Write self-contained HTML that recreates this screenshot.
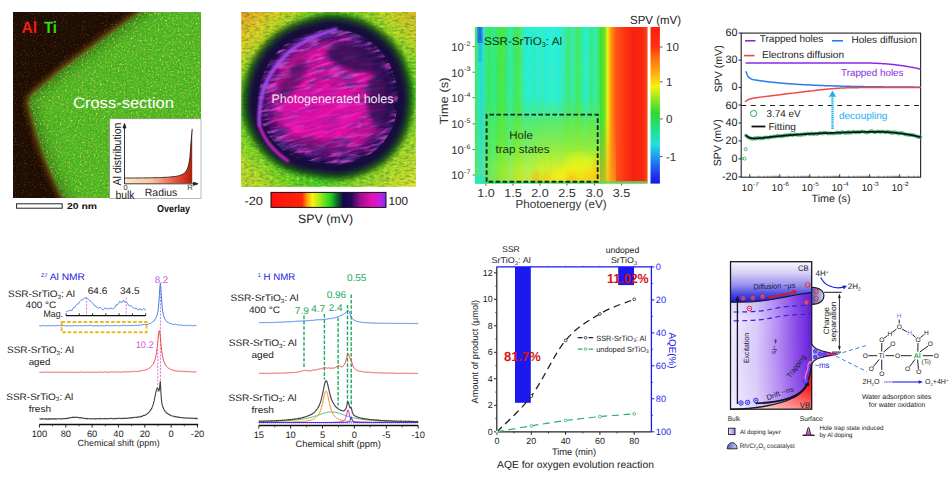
<!DOCTYPE html>
<html><head><meta charset="utf-8"><title>Figure</title>
<style>
html,body{margin:0;padding:0;background:#fff;}
body{width:952px;height:477px;overflow:hidden;font-family:"Liberation Sans",sans-serif;}
svg{display:block;}
text{font-family:"Liberation Sans",sans-serif;text-rendering:geometricPrecision;}
</style></head><body>
<svg width="952" height="477" viewBox="0 0 952 477">
<rect x="0" y="0" width="952" height="477" fill="#ffffff"/>
<defs>
<clipPath id="c1"><rect x="13" y="12" width="188" height="186"/></clipPath>
<filter id="n1" x="0" y="0" width="100%" height="100%">
  <feTurbulence type="fractalNoise" baseFrequency="0.55" numOctaves="2" seed="3" result="t"/>
  <feColorMatrix type="matrix" values="0 0 0 0 0.85  0 0 0 0 0.75  0 0 0 0 0.1  2.6 0 0 0 -1.35"/>
</filter>
<filter id="n1b" x="0" y="0" width="100%" height="100%">
  <feTurbulence type="fractalNoise" baseFrequency="0.5" numOctaves="2" seed="11" result="t"/>
  <feColorMatrix type="matrix" values="0 0 0 0 0.08  0 0 0 0 0.36  0 0 0 0 0.02  0 3.6 0 0 -1.55"/>
</filter>
<filter id="n1c" x="0" y="0" width="100%" height="100%">
  <feTurbulence type="fractalNoise" baseFrequency="0.9" numOctaves="1" seed="23" result="t"/>
  <feColorMatrix type="matrix" values="0 0 0 0 0.75  0 0 0 0 0.2  0 0 0 0 0.08  0 0 3.2 0 -1.85"/>
</filter>
<filter id="b1"><feGaussianBlur stdDeviation="2.6"/></filter>
<filter id="b1w" x="-20%" y="-20%" width="140%" height="140%"><feGaussianBlur stdDeviation="5"/></filter>
<filter id="b1e"><feGaussianBlur stdDeviation="3.2"/></filter>
<linearGradient id="g1in" x1="0" x2="1" y1="0" y2="0">
  <stop offset="0" stop-color="#fde9c6"/><stop offset="0.4" stop-color="#f9c4a0"/>
  <stop offset="0.68" stop-color="#f06a50"/><stop offset="0.88" stop-color="#d83420"/><stop offset="1" stop-color="#a82008"/>
</linearGradient>
</defs>
<g clip-path="url(#c1)">
<rect x="13" y="12" width="188" height="186" fill="#1d0d02"/>
<path d="M147.00,8.00 L205.00,8.00 L205.00,202.00 L66.00,202.00 L58.00,187.00 L50.00,169.00 L43.00,151.00 L37.00,133.00 L32.50,116.00 L30.00,106.00 L29.50,101.00 L31.00,97.00 L35.00,93.00 L60.00,72.00 L110.00,34.50 Z" fill="none" stroke="#7a4412" stroke-width="8" filter="url(#b1e)" opacity="0.85"/>
<path d="M147.00,8.00 L205.00,8.00 L205.00,202.00 L66.00,202.00 L58.00,187.00 L50.00,169.00 L43.00,151.00 L37.00,133.00 L32.50,116.00 L30.00,106.00 L29.50,101.00 L31.00,97.00 L35.00,93.00 L60.00,72.00 L110.00,34.50 Z" fill="#48c024" filter="url(#b1)"/>
<clipPath id="c1p"><path d="M147.00,8.00 L205.00,8.00 L205.00,202.00 L66.00,202.00 L58.00,187.00 L50.00,169.00 L43.00,151.00 L37.00,133.00 L32.50,116.00 L30.00,106.00 L29.50,101.00 L31.00,97.00 L35.00,93.00 L60.00,72.00 L110.00,34.50 Z"/></clipPath>
<g clip-path="url(#c1p)">
<path d="M152.00,4.00 L110.00,34.50 L60.00,72.00 L35.00,93.00 L31.00,97.00 L29.50,101.00 L30.00,106.00 L32.50,116.00 L37.00,133.00 L43.00,151.00 L50.00,169.00 L58.00,187.00 L66.00,202.00 L70.00,210.00" fill="none" stroke="#245c0c" stroke-width="16" filter="url(#b1w)" opacity="0.55"/>
<rect x="13" y="12" width="188" height="186" filter="url(#n1)"/>
<rect x="13" y="12" width="188" height="186" filter="url(#n1b)"/>
</g>
<rect x="13" y="12" width="188" height="186" filter="url(#n1c)" opacity="0.5"/>
</g>
<text x="21.5" y="32.5" font-size="16.5" fill="#f01e14" text-anchor="start" font-weight="bold" textLength="15.5" lengthAdjust="spacingAndGlyphs" >Al</text>
<text x="44.0" y="32.5" font-size="16.5" fill="#38d818" text-anchor="start" font-weight="bold" textLength="13.0" lengthAdjust="spacingAndGlyphs" >Ti</text>
<text x="73.0" y="108.0" font-size="15.2" fill="#ffffff" text-anchor="start" font-weight="normal" textLength="101.0" lengthAdjust="spacingAndGlyphs" >Cross-section</text>
<rect x="109.7" y="118.8" width="91.3" height="79.6" fill="#ffffff" stroke="#8a8a8a" stroke-width="0.6"/>
<path d="M124.50,183.30 L124.50,178.04 L125.63,178.04 L126.76,178.03 L127.89,178.02 L129.01,178.02 L130.14,178.01 L131.27,178.00 L132.40,177.99 L133.53,177.98 L134.66,177.98 L135.78,177.97 L136.91,177.96 L138.04,177.94 L139.17,177.93 L140.30,177.92 L141.43,177.91 L142.55,177.90 L143.68,177.88 L144.81,177.87 L145.94,177.85 L147.07,177.84 L148.19,177.82 L149.32,177.80 L150.45,177.78 L151.58,177.76 L152.71,177.74 L153.84,177.71 L154.97,177.69 L156.09,177.66 L157.22,177.63 L158.35,177.60 L159.48,177.56 L160.61,177.52 L161.74,177.48 L162.86,177.44 L163.99,177.39 L165.12,177.33 L166.25,177.27 L167.38,177.20 L168.50,177.13 L169.63,177.05 L170.76,176.95 L171.89,176.85 L173.02,176.73 L174.15,176.59 L175.27,176.43 L176.40,176.24 L177.53,176.02 L178.66,175.75 L179.79,175.44 L180.92,175.04 L182.04,174.56 L183.17,173.93 L184.30,173.11 L185.43,172.00 L186.56,170.43 L187.69,168.08 L188.81,164.26 L189.94,157.28 L191.07,141.75 L192.20,128.80 L192.20,183.30 Z" fill="url(#g1in)"/>
<path d="M124.50,178.04 L125.63,178.04 L126.76,178.03 L127.89,178.02 L129.01,178.02 L130.14,178.01 L131.27,178.00 L132.40,177.99 L133.53,177.98 L134.66,177.98 L135.78,177.97 L136.91,177.96 L138.04,177.94 L139.17,177.93 L140.30,177.92 L141.43,177.91 L142.55,177.90 L143.68,177.88 L144.81,177.87 L145.94,177.85 L147.07,177.84 L148.19,177.82 L149.32,177.80 L150.45,177.78 L151.58,177.76 L152.71,177.74 L153.84,177.71 L154.97,177.69 L156.09,177.66 L157.22,177.63 L158.35,177.60 L159.48,177.56 L160.61,177.52 L161.74,177.48 L162.86,177.44 L163.99,177.39 L165.12,177.33 L166.25,177.27 L167.38,177.20 L168.50,177.13 L169.63,177.05 L170.76,176.95 L171.89,176.85 L173.02,176.73 L174.15,176.59 L175.27,176.43 L176.40,176.24 L177.53,176.02 L178.66,175.75 L179.79,175.44 L180.92,175.04 L182.04,174.56 L183.17,173.93 L184.30,173.11 L185.43,172.00 L186.56,170.43 L187.69,168.08 L188.81,164.26 L189.94,157.28 L191.07,141.75 L192.20,128.80" fill="none" stroke="#222" stroke-width="0.9"/>
<path d="M124.5,184 L124.5,124.5 M123,128 L124.5,123.5 L126,128 Z" stroke="#222" stroke-width="0.9" fill="#222"/>
<path d="M124.5,183.8 L197,183.8 M193.5,182.3 L198,183.8 L193.5,185.3 Z" stroke="#222" stroke-width="0.9" fill="#222"/>
<text x="121.2" y="185.6" font-size="11.4" fill="#222" text-anchor="start" font-weight="normal" textLength="63.0" lengthAdjust="spacingAndGlyphs" transform="rotate(-90 121.2 185.6)" >Al distribution</text>
<text x="123.4" y="190.2" font-size="7.4" fill="#333" text-anchor="start" font-weight="normal" >0</text>
<text x="187.2" y="190.4" font-size="7.8" fill="#333" text-anchor="start" font-weight="normal" >R</text>
<text x="115.4" y="198.7" font-size="11.8" fill="#222" text-anchor="start" font-weight="normal" textLength="19.0" lengthAdjust="spacingAndGlyphs" >bulk</text>
<text x="144.8" y="196.3" font-size="10.5" fill="#222" text-anchor="start" font-weight="normal" textLength="32.5" lengthAdjust="spacingAndGlyphs" >Radius</text>
<rect x="16.6" y="203.8" width="45.6" height="4.4" fill="#fff" stroke="#222" stroke-width="1"/>
<text x="67.0" y="209.2" font-size="8.6" fill="#111" text-anchor="start" font-weight="bold" textLength="30.0" lengthAdjust="spacingAndGlyphs" >20 nm</text>
<text x="157.0" y="211.8" font-size="10" fill="#111" text-anchor="start" font-weight="bold" textLength="33.0" lengthAdjust="spacingAndGlyphs" >Overlay</text>
<defs>
<clipPath id="c2"><rect x="241.3" y="12" width="174.5" height="174.8"/></clipPath>
<linearGradient id="g2bg" x1="0" y1="0" x2="1" y2="1">
  <stop offset="0" stop-color="#f09418"/><stop offset="0.1" stop-color="#e0d020"/>
  <stop offset="0.24" stop-color="#58d418"/><stop offset="0.72" stop-color="#40d018"/>
  <stop offset="0.88" stop-color="#a8d824"/><stop offset="1" stop-color="#e4e428"/>
</linearGradient>
<linearGradient id="g2bg2" x1="1" y1="0" x2="0" y2="1">
  <stop offset="0" stop-color="#f0b020" stop-opacity="0.95"/><stop offset="0.1" stop-color="#d8d820" stop-opacity="0.8"/>
  <stop offset="0.25" stop-color="#80d020" stop-opacity="0"/><stop offset="0.78" stop-color="#80d020" stop-opacity="0"/>
  <stop offset="0.92" stop-color="#c8dc24" stop-opacity="0.8"/><stop offset="1" stop-color="#e0d828" stop-opacity="0.9"/>
</linearGradient>
<radialGradient id="g2e" cx="0.5" cy="0.5" r="0.5">
  <stop offset="0" stop-color="#e010a8"/><stop offset="0.45" stop-color="#c810a0"/>
  <stop offset="0.68" stop-color="#8a1088"/><stop offset="0.8" stop-color="#2a0c5c"/>
  <stop offset="0.88" stop-color="#160a44"/><stop offset="0.94" stop-color="#123c20"/>
  <stop offset="1" stop-color="#30a020" stop-opacity="0"/>
</radialGradient>
<filter id="n2" x="0" y="0" width="100%" height="100%">
  <feTurbulence type="fractalNoise" baseFrequency="0.05 0.3" numOctaves="3" seed="5"/>
  <feColorMatrix type="matrix" values="0 0 0 0 0.09  0 0 0 0 0.03  0 0 0 0 0.27  3.4 0 0 0 -1.5"/>
</filter>
<filter id="n2b" x="0" y="0" width="100%" height="100%">
  <feTurbulence type="fractalNoise" baseFrequency="0.06 0.32" numOctaves="3" seed="17"/>
  <feColorMatrix type="matrix" values="0 0 0 0 0.94  0 0 0 0 0.08  0 0 0 0 0.72  0 3.2 0 0 -1.5"/>
</filter>
<filter id="n2c" x="0" y="0" width="100%" height="100%">
  <feTurbulence type="fractalNoise" baseFrequency="0.2 0.5" numOctaves="2" seed="29"/>
  <feColorMatrix type="matrix" values="0 0 0 0 0.06  0 0 0 0 0.25  0 0 0 0 0.05  0 0 3.6 0 -1.6"/>
</filter>
<filter id="n2d" x="0" y="0" width="100%" height="100%">
  <feTurbulence type="fractalNoise" baseFrequency="0.3 0.5" numOctaves="2" seed="41"/>
  <feColorMatrix type="matrix" values="0 0 0 0 0.95  0 0 0 0 0.85  0 0 0 0 0.1  0 3 0 0 -1.5"/>
</filter>
<filter id="b2"><feGaussianBlur stdDeviation="2.2"/></filter>
<filter id="b2s"><feGaussianBlur stdDeviation="0.9"/></filter>
<filter id="b2w"><feGaussianBlur stdDeviation="4"/></filter>
<linearGradient id="g2cb" x1="0" x2="1" y1="0" y2="0">
  <stop offset="0" stop-color="#ff1010"/><stop offset="0.27" stop-color="#ff2408"/>
  <stop offset="0.31" stop-color="#ff9808"/><stop offset="0.36" stop-color="#fff010"/>
  <stop offset="0.44" stop-color="#90e818"/><stop offset="0.52" stop-color="#20d020"/>
  <stop offset="0.58" stop-color="#106028"/><stop offset="0.63" stop-color="#100848"/>
  <stop offset="0.70" stop-color="#28085c"/><stop offset="0.78" stop-color="#a01090"/>
  <stop offset="0.88" stop-color="#e810b8"/><stop offset="0.95" stop-color="#c020e0"/>
  <stop offset="1" stop-color="#8828f0"/>
</linearGradient>
</defs>
<g clip-path="url(#c2)">
<rect x="241" y="12" width="175" height="175" fill="url(#g2bg)"/>
<rect x="241" y="12" width="175" height="175" fill="url(#g2bg2)"/>
<rect x="241" y="12" width="175" height="175" filter="url(#n2d)" opacity="0.6"/>
<rect x="241" y="12" width="175" height="175" filter="url(#n2c)" opacity="0.5"/>
<path d="M336.5,13.8 C346.9,14.6 358.8,17.1 368.9,22.5 C379.0,27.9 389.9,36.9 397.0,46.2 C404.0,55.6 408.5,67.5 411.0,78.6 C413.5,89.8 413.5,102.6 412.1,113.2 C410.6,123.8 407.6,133.5 402.4,142.4 C397.1,151.2 389.9,160.0 380.8,166.1 C371.6,172.2 358.6,177.3 347.3,179.1 C335.9,180.9 323.7,178.7 312.7,176.9 C301.7,175.1 290.6,173.1 281.4,168.3 C272.2,163.4 263.9,155.9 257.6,147.8 C251.3,139.7 246.1,129.0 243.6,119.7 C241.1,110.3 241.1,101.5 242.5,91.6 C244.0,81.7 246.8,70.0 252.2,60.3 C257.6,50.6 265.9,40.3 274.9,33.3 C283.9,26.3 296.0,21.4 306.2,18.2 C316.5,14.9 326.0,13.1 336.5,13.8 Z" fill="#103c14" opacity="0.8" filter="url(#b2)"/>
<path d="M336.0,20.0 C345.7,20.7 356.7,23.0 366.0,28.0 C375.3,33.0 385.5,41.3 392.0,50.0 C398.5,58.7 402.7,69.7 405.0,80.0 C407.3,90.3 407.3,102.2 406.0,112.0 C404.7,121.8 401.8,130.8 397.0,139.0 C392.2,147.2 385.5,155.3 377.0,161.0 C368.5,166.7 356.5,171.3 346.0,173.0 C335.5,174.7 324.2,172.7 314.0,171.0 C303.8,169.3 293.5,167.5 285.0,163.0 C276.5,158.5 268.8,151.5 263.0,144.0 C257.2,136.5 252.3,126.7 250.0,118.0 C247.7,109.3 247.7,101.2 249.0,92.0 C250.3,82.8 253.0,72.0 258.0,63.0 C263.0,54.0 270.7,44.5 279.0,38.0 C287.3,31.5 298.5,27.0 308.0,24.0 C317.5,21.0 326.3,19.3 336.0,20.0 Z" fill="#15083e" filter="url(#b2)"/>
<path d="M335.0,32.3 C343.2,32.9 352.4,34.8 360.2,39.0 C368.1,43.2 376.6,50.2 382.1,57.5 C387.5,64.8 391.0,74.0 393.0,82.7 C395.0,91.4 395.0,101.3 393.8,109.6 C392.7,117.9 390.3,125.4 386.3,132.3 C382.2,139.1 376.6,146.0 369.5,150.8 C362.3,155.5 352.3,159.4 343.4,160.8 C334.6,162.2 325.1,160.6 316.6,159.2 C308.0,157.8 299.3,156.2 292.2,152.4 C285.1,148.7 278.6,142.8 273.7,136.5 C268.8,130.2 264.8,121.9 262.8,114.6 C260.8,107.4 260.8,100.5 262.0,92.8 C263.1,85.1 265.3,76.0 269.5,68.4 C273.7,60.9 280.2,52.9 287.2,47.4 C294.2,42.0 303.5,38.2 311.5,35.7 C319.5,33.2 326.9,31.8 335.0,32.3 Z" fill="#3c0c64" filter="url(#b2)"/>
<path d="M334.3,41.6 C341.3,42.0 349.2,43.7 355.9,47.3 C362.6,50.9 370.0,56.9 374.6,63.2 C379.3,69.4 382.3,77.3 384.0,84.8 C385.7,92.2 385.7,100.7 384.7,107.8 C383.8,114.9 381.7,121.4 378.2,127.2 C374.8,133.1 370.0,139.0 363.8,143.1 C357.7,147.2 349.1,150.5 341.5,151.7 C334.0,152.9 325.8,151.5 318.5,150.3 C311.2,149.1 303.7,147.8 297.6,144.5 C291.5,141.3 286.0,136.2 281.8,130.8 C277.6,125.4 274.1,118.4 272.4,112.1 C270.7,105.9 270.7,100.0 271.7,93.4 C272.6,86.8 274.6,79.0 278.2,72.5 C281.8,66.0 287.3,59.2 293.3,54.5 C299.3,49.8 307.3,46.6 314.2,44.4 C321.0,42.3 327.4,41.1 334.3,41.6 Z" fill="#d01098" filter="url(#b2w)"/>
<clipPath id="c2e"><path d="M335.3,29.2 C343.8,29.8 353.5,31.9 361.7,36.3 C369.9,40.7 378.8,48.0 384.6,55.6 C390.3,63.3 393.9,72.9 396.0,82.0 C398.1,91.1 398.1,101.5 396.9,110.2 C395.7,118.9 393.2,126.8 389.0,134.0 C384.7,141.1 378.8,148.3 371.4,153.3 C363.9,158.3 353.3,162.4 344.1,163.9 C334.8,165.3 324.9,163.6 315.9,162.1 C307.0,160.7 297.9,159.0 290.4,155.1 C282.9,151.1 276.2,145.0 271.0,138.4 C265.9,131.8 261.7,123.1 259.6,115.5 C257.5,107.9 257.5,100.7 258.7,92.6 C259.9,84.5 262.2,75.0 266.6,67.1 C271.0,59.2 277.8,50.8 285.1,45.1 C292.5,39.4 302.3,35.4 310.6,32.8 C319.0,30.1 326.8,28.7 335.3,29.2 Z"/></clipPath>
<g clip-path="url(#c2e)">
<g transform="rotate(-14 330 97)">
<rect x="221" y="-10" width="215" height="215" filter="url(#n2)" opacity="0.95"/>
<rect x="221" y="-10" width="215" height="215" filter="url(#n2b)" opacity="0.75"/>
</g>
</g>
<ellipse cx="356" cy="58" rx="30" ry="13" fill="#1c0848" opacity="0.75" filter="url(#b2)" transform="rotate(14 356 58)"/>
<ellipse cx="381" cy="98" rx="14" ry="30" fill="#1c0848" opacity="0.7" filter="url(#b2)"/>
<ellipse cx="292" cy="80" rx="9" ry="24" fill="#1c0848" opacity="0.45" filter="url(#b2)" transform="rotate(32 292 80)"/>
<ellipse cx="322" cy="146" rx="30" ry="7" fill="#1c0848" opacity="0.35" filter="url(#b2)" transform="rotate(10 322 146)"/>
<ellipse cx="322" cy="112" rx="40" ry="26" fill="#f010b0" opacity="0.5" filter="url(#b2)"/>
<path d="M336,29.5 C312,36 294,46 283,58 C272,70 264,84 261.5,97 C259.5,108 258.5,117 259.5,125" fill="none" stroke="#a848f0" stroke-width="3.4" stroke-linecap="round" filter="url(#b2s)"/>
<path d="M259.5,125 C263,138 272,150 288,161" fill="none" stroke="#d428c8" stroke-width="3.0" stroke-linecap="round" filter="url(#b2s)" opacity="0.95"/>
</g>
<text x="271.5" y="103.0" font-size="12.4" fill="#f4e8f4" text-anchor="start" font-weight="normal" textLength="122.0" lengthAdjust="spacingAndGlyphs" >Photogenerated holes</text>
<rect x="271" y="192.4" width="115" height="15" fill="url(#g2cb)" stroke="#111" stroke-width="1"/>
<text x="244.5" y="204.5" font-size="11.8" fill="#222" text-anchor="start" font-weight="normal" textLength="18.5" lengthAdjust="spacingAndGlyphs" >-20</text>
<text x="388.5" y="204.5" font-size="11.8" fill="#222" text-anchor="start" font-weight="normal" textLength="19.5" lengthAdjust="spacingAndGlyphs" >100</text>
<text x="298.0" y="223.3" font-size="12.2" fill="#222" text-anchor="start" font-weight="normal" textLength="55.0" lengthAdjust="spacingAndGlyphs" >SPV (mV)</text>
<defs>
<clipPath id="c3"><rect x="474.8" y="27.0" width="172.7" height="156.6"/></clipPath>
<linearGradient id="g3v" x1="0" x2="0" y1="0" y2="1">
  <stop offset="0" stop-color="#40e860" stop-opacity="0"/>
  <stop offset="0.45" stop-color="#50e850" stop-opacity="0.1"/>
  <stop offset="0.6" stop-color="#70e838" stop-opacity="0.7"/>
  <stop offset="0.78" stop-color="#a8ec28" stop-opacity="0.88"/>
  <stop offset="0.9" stop-color="#e4f018" stop-opacity="0.95"/>
  <stop offset="1" stop-color="#fce010" stop-opacity="1"/>
</linearGradient>
<linearGradient id="g3h" x1="0" x2="1" y1="0" y2="0">
  <stop offset="0" stop-color="#fff" stop-opacity="0.1"/>
  <stop offset="0.1" stop-color="#fff" stop-opacity="0.3"/>
  <stop offset="0.3" stop-color="#fff" stop-opacity="0.7"/>
  <stop offset="0.5" stop-color="#fff" stop-opacity="0.95"/>
  <stop offset="1" stop-color="#fff" stop-opacity="1"/>
</linearGradient>
<mask id="m3"><rect x="474.8" y="27.0" width="140" height="156.6" fill="url(#g3h)"/></mask>
<linearGradient id="g3r" x1="0" x2="1" y1="0" y2="0">
  <stop offset="0" stop-color="#38e040"/><stop offset="0.09" stop-color="#60e428"/>
  <stop offset="0.16" stop-color="#f0f010"/><stop offset="0.23" stop-color="#ff9810"/>
  <stop offset="0.34" stop-color="#ff5018"/><stop offset="0.55" stop-color="#fc3010"/>
  <stop offset="0.7" stop-color="#f82010"/><stop offset="0.9" stop-color="#fa2810"/>
  <stop offset="1" stop-color="#ff5018"/>
</linearGradient>
<linearGradient id="g3rv" x1="0" x2="0" y1="0" y2="1">
  <stop offset="0" stop-color="#ff8020" stop-opacity="0"/>
  <stop offset="0.6" stop-color="#ff8020" stop-opacity="0"/>
  <stop offset="1" stop-color="#ffa020" stop-opacity="0.55"/>
</linearGradient>
<linearGradient id="g3cb" x1="0" x2="0" y1="0" y2="1">
  <stop offset="0" stop-color="#ff1c10"/><stop offset="0.12" stop-color="#ff3010"/>
  <stop offset="0.2" stop-color="#ff7010"/><stop offset="0.3" stop-color="#ffb010"/>
  <stop offset="0.38" stop-color="#f8f010"/><stop offset="0.46" stop-color="#90e820"/>
  <stop offset="0.55" stop-color="#30d830"/><stop offset="0.66" stop-color="#20e090"/>
  <stop offset="0.75" stop-color="#20e0e0"/><stop offset="0.84" stop-color="#2090f0"/>
  <stop offset="0.93" stop-color="#2040f0"/><stop offset="1" stop-color="#1818e0"/>
</linearGradient>
<filter id="b3"><feGaussianBlur stdDeviation="1.4 0.4"/></filter>
<filter id="b3b"><feGaussianBlur stdDeviation="2.5 4"/></filter>
<filter id="n3" x="0" y="0" width="100%" height="100%">
  <feTurbulence type="fractalNoise" baseFrequency="0.5 0.08" numOctaves="2" seed="9"/>
  <feColorMatrix type="matrix" values="0 0 0 0 0.1  0 0 0 0 0.95  0 0 0 0 0.2  2.4 0 0 0 -1.15"/>
</filter>
</defs>
<g clip-path="url(#c3)">
<rect x="474.8" y="27.0" width="172.7" height="156.6" fill="#30e078"/>
<g filter="url(#b3)">
<rect x="474.8" y="20" width="3.1" height="170" fill="#48e850"/>
<rect x="477.3" y="20" width="2.8000000000000003" height="170" fill="#28ecb0"/>
<rect x="479.5" y="20" width="4.2" height="170" fill="#28d8e8"/>
<rect x="483.1" y="20" width="4.0" height="170" fill="#30e8a0"/>
<rect x="486.5" y="20" width="5.6" height="170" fill="#38e860"/>
<rect x="491.5" y="20" width="4.6" height="170" fill="#30ec90"/>
<rect x="495.5" y="20" width="4.6" height="170" fill="#38e858"/>
<rect x="499.5" y="20" width="5.1" height="170" fill="#50e840"/>
<rect x="504" y="20" width="4.6" height="170" fill="#38e868"/>
<rect x="508" y="20" width="4.6" height="170" fill="#30ecb0"/>
<rect x="512" y="20" width="5.6" height="170" fill="#38e870"/>
<rect x="517" y="20" width="4.6" height="170" fill="#50e840"/>
<rect x="521" y="20" width="4.6" height="170" fill="#30ecb0"/>
<rect x="525" y="20" width="7.6" height="170" fill="#28f0e0"/>
<rect x="532" y="20" width="4.6" height="170" fill="#30ecc0"/>
<rect x="536" y="20" width="4.6" height="170" fill="#28f0e0"/>
<rect x="540" y="20" width="5.6" height="170" fill="#30ecc8"/>
<rect x="545" y="20" width="5.6" height="170" fill="#28f0e8"/>
<rect x="550" y="20" width="5.6" height="170" fill="#30f0d0"/>
<rect x="555" y="20" width="5.6" height="170" fill="#28f0e8"/>
<rect x="560" y="20" width="6.6" height="170" fill="#30ecc0"/>
<rect x="566" y="20" width="4.6" height="170" fill="#40e868"/>
<rect x="570" y="20" width="5.6" height="170" fill="#30ecb0"/>
<rect x="575" y="20" width="4.6" height="170" fill="#48e850"/>
<rect x="579" y="20" width="5.6" height="170" fill="#30ec98"/>
<rect x="584" y="20" width="5.6" height="170" fill="#28f0d8"/>
<rect x="589" y="20" width="4.6" height="170" fill="#38e878"/>
<rect x="593" y="20" width="4.6" height="170" fill="#30ecb8"/>
<rect x="597" y="20" width="4.6" height="170" fill="#40e858"/>
<rect x="601" y="20" width="5.6" height="170" fill="#38e040"/>
</g>
<rect x="477.6" y="27" width="4.6" height="16" fill="#2050f0" filter="url(#b3)"/>
<rect x="478.4" y="40" width="3" height="22" fill="#2890f0" opacity="0.6" filter="url(#b3)"/>
<rect x="474.8" y="27.0" width="140" height="156.6" fill="url(#g3v)" mask="url(#m3)"/>
<rect x="474.8" y="27.0" width="135" height="156.6" filter="url(#n3)" opacity="0.18"/>
<ellipse cx="536" cy="179" rx="3" ry="7" fill="#ffa010" opacity="0.7" filter="url(#b3b)"/>
<ellipse cx="546" cy="180" rx="3" ry="6" fill="#ffb010" opacity="0.6" filter="url(#b3b)"/>
<ellipse cx="572" cy="178" rx="6" ry="7" fill="#ffa810" opacity="0.65" filter="url(#b3b)"/>
<ellipse cx="588" cy="176" rx="8" ry="10" fill="#ffb818" opacity="0.6" filter="url(#b3b)"/>
<ellipse cx="560" cy="176" rx="8" ry="8" fill="#fff018" opacity="0.6" filter="url(#b3b)"/>
<ellipse cx="580" cy="166" rx="16" ry="12" fill="#f8f818" opacity="0.5" filter="url(#b3b)"/>
<ellipse cx="598" cy="170" rx="5" ry="14" fill="#ffc010" opacity="0.55" filter="url(#b3b)"/>
<rect x="600" y="27.0" width="48" height="156.6" fill="url(#g3r)"/>
<rect x="600" y="27.0" width="16" height="156.6" fill="url(#g3rv)"/>
<rect x="474.8" y="181.2" width="125" height="2.6" fill="#48e058" opacity="0.9"/>
<rect x="600" y="181.2" width="48" height="2.6" fill="#50e060" opacity="0.9"/>
<rect x="474.8" y="176" width="10" height="8" fill="#28e8c0" opacity="0.8"/>
</g>
<path d="M472.6,46.6 L474.8,46.6" stroke="#333" stroke-width="0.8"/>
<path d="M472.6,72.2 L474.8,72.2" stroke="#333" stroke-width="0.8"/>
<path d="M472.6,97.7 L474.8,97.7" stroke="#333" stroke-width="0.8"/>
<path d="M472.6,123.9 L474.8,123.9" stroke="#333" stroke-width="0.8"/>
<path d="M472.6,149.6 L474.8,149.6" stroke="#333" stroke-width="0.8"/>
<path d="M472.6,175.0 L474.8,175.0" stroke="#333" stroke-width="0.8"/>
<text x="451.2" y="50.9" font-size="11.2" fill="#333" text-anchor="start" font-weight="normal" textLength="12.6" lengthAdjust="spacingAndGlyphs" >10</text>
<text x="464.0" y="45.6" font-size="6.4" fill="#333" text-anchor="start" font-weight="normal" textLength="6.4" lengthAdjust="spacingAndGlyphs" >-2</text>
<text x="451.2" y="76.5" font-size="11.2" fill="#333" text-anchor="start" font-weight="normal" textLength="12.6" lengthAdjust="spacingAndGlyphs" >10</text>
<text x="464.0" y="71.2" font-size="6.4" fill="#333" text-anchor="start" font-weight="normal" textLength="6.4" lengthAdjust="spacingAndGlyphs" >-3</text>
<text x="451.2" y="102.0" font-size="11.2" fill="#333" text-anchor="start" font-weight="normal" textLength="12.6" lengthAdjust="spacingAndGlyphs" >10</text>
<text x="464.0" y="96.7" font-size="6.4" fill="#333" text-anchor="start" font-weight="normal" textLength="6.4" lengthAdjust="spacingAndGlyphs" >-4</text>
<text x="451.2" y="128.2" font-size="11.2" fill="#333" text-anchor="start" font-weight="normal" textLength="12.6" lengthAdjust="spacingAndGlyphs" >10</text>
<text x="464.0" y="122.9" font-size="6.4" fill="#333" text-anchor="start" font-weight="normal" textLength="6.4" lengthAdjust="spacingAndGlyphs" >-5</text>
<text x="451.2" y="153.9" font-size="11.2" fill="#333" text-anchor="start" font-weight="normal" textLength="12.6" lengthAdjust="spacingAndGlyphs" >10</text>
<text x="464.0" y="148.6" font-size="6.4" fill="#333" text-anchor="start" font-weight="normal" textLength="6.4" lengthAdjust="spacingAndGlyphs" >-6</text>
<text x="451.2" y="179.3" font-size="11.2" fill="#333" text-anchor="start" font-weight="normal" textLength="12.6" lengthAdjust="spacingAndGlyphs" >10</text>
<text x="464.0" y="174.0" font-size="6.4" fill="#333" text-anchor="start" font-weight="normal" textLength="6.4" lengthAdjust="spacingAndGlyphs" >-7</text>
<text x="447.5" y="124.5" font-size="11.8" fill="#333" text-anchor="start" font-weight="normal" textLength="47.0" lengthAdjust="spacingAndGlyphs" transform="rotate(-90 447.5 124.5)" >Time (s)</text>
<text x="485.9" y="197.2" font-size="11.6" fill="#333" text-anchor="middle" font-weight="normal" textLength="17.5" lengthAdjust="spacingAndGlyphs" >1.0</text>
<path d="M485.9,183.6 L485.9,185.6" stroke="#333" stroke-width="0.8"/>
<text x="513.0" y="197.2" font-size="11.6" fill="#333" text-anchor="middle" font-weight="normal" textLength="17.5" lengthAdjust="spacingAndGlyphs" >1.5</text>
<path d="M513,183.6 L513,185.6" stroke="#333" stroke-width="0.8"/>
<text x="540.0" y="197.2" font-size="11.6" fill="#333" text-anchor="middle" font-weight="normal" textLength="17.5" lengthAdjust="spacingAndGlyphs" >2.0</text>
<path d="M540,183.6 L540,185.6" stroke="#333" stroke-width="0.8"/>
<text x="567.0" y="197.2" font-size="11.6" fill="#333" text-anchor="middle" font-weight="normal" textLength="17.5" lengthAdjust="spacingAndGlyphs" >2.5</text>
<path d="M567,183.6 L567,185.6" stroke="#333" stroke-width="0.8"/>
<text x="594.4" y="197.2" font-size="11.6" fill="#333" text-anchor="middle" font-weight="normal" textLength="17.5" lengthAdjust="spacingAndGlyphs" >3.0</text>
<path d="M594.4,183.6 L594.4,185.6" stroke="#333" stroke-width="0.8"/>
<text x="621.6" y="197.2" font-size="11.6" fill="#333" text-anchor="middle" font-weight="normal" textLength="17.5" lengthAdjust="spacingAndGlyphs" >3.5</text>
<path d="M621.6,183.6 L621.6,185.6" stroke="#333" stroke-width="0.8"/>
<text x="515.5" y="208.3" font-size="11.8" fill="#333" text-anchor="start" font-weight="normal" textLength="91.0" lengthAdjust="spacingAndGlyphs" >Photoenergy (eV)</text>
<text x="484.0" y="45.2" font-size="11.2" fill="#143018" text-anchor="start" font-weight="normal" textLength="78.0" lengthAdjust="spacingAndGlyphs" >SSR-SrTiO<tspan font-size="7" dy="2.2">3</tspan><tspan dy="-2.2">: Al</tspan></text>
<path d="M486.6,181.8 L486.6,114.6 L597.7,114.6 L597.7,181.8 Z" fill="none" stroke="#0c2440" stroke-width="1.9" stroke-dasharray="4.6,2.4"/>
<text x="509.3" y="139.2" font-size="11.4" fill="#1c3010" text-anchor="start" font-weight="normal" textLength="23.5" lengthAdjust="spacingAndGlyphs" >Hole</text>
<text x="495.5" y="153.4" font-size="11.4" fill="#1c3010" text-anchor="start" font-weight="normal" textLength="54.0" lengthAdjust="spacingAndGlyphs" >trap states</text>
<rect x="650.5" y="27" width="9.4" height="156.6" fill="url(#g3cb)"/>
<path d="M659.9,47 L662.6,47" stroke="#333" stroke-width="0.8"/>
<text x="666.0" y="51.2" font-size="11.6" fill="#333" text-anchor="start" font-weight="normal" >10</text>
<path d="M659.9,81.8 L662.6,81.8" stroke="#333" stroke-width="0.8"/>
<text x="666.0" y="86.0" font-size="11.6" fill="#333" text-anchor="start" font-weight="normal" >1</text>
<path d="M659.9,118.9 L662.6,118.9" stroke="#333" stroke-width="0.8"/>
<text x="666.0" y="123.1" font-size="11.6" fill="#333" text-anchor="start" font-weight="normal" >0</text>
<path d="M659.9,156.6 L662.6,156.6" stroke="#333" stroke-width="0.8"/>
<text x="666.0" y="160.8" font-size="11.6" fill="#333" text-anchor="start" font-weight="normal" >-1</text>
<text x="630.0" y="23.8" font-size="11.8" fill="#222" text-anchor="start" font-weight="normal" textLength="51.0" lengthAdjust="spacingAndGlyphs" >SPV (mV)</text>
<rect x="741.2" y="33.1" width="179.39999999999998" height="144.1" fill="none" stroke="#2a2a2a" stroke-width="1.15"/>
<path d="M741.2,105.5 L920.6,105.5" stroke="#222" stroke-width="1.1" stroke-dasharray="5,4.6" fill="none"/>
<path d="M738.6,33.1 L741.2,33.1" stroke="#222" stroke-width="1"/>
<text x="737.6" y="36.0" font-size="10.8" fill="#222" text-anchor="end" font-weight="normal" >60</text>
<path d="M738.6,60.2 L741.2,60.2" stroke="#222" stroke-width="1"/>
<text x="737.6" y="63.1" font-size="10.8" fill="#222" text-anchor="end" font-weight="normal" >30</text>
<path d="M738.6,87.4 L741.2,87.4" stroke="#222" stroke-width="1"/>
<text x="737.6" y="90.3" font-size="10.8" fill="#222" text-anchor="end" font-weight="normal" >0</text>
<path d="M738.6,105.0 L741.2,105.0" stroke="#222" stroke-width="1"/>
<text x="737.6" y="108.6" font-size="10.8" fill="#222" text-anchor="end" font-weight="normal" >60</text>
<path d="M738.6,123.0 L741.2,123.0" stroke="#222" stroke-width="1"/>
<text x="737.6" y="125.9" font-size="10.8" fill="#222" text-anchor="end" font-weight="normal" >40</text>
<path d="M738.6,140.9 L741.2,140.9" stroke="#222" stroke-width="1"/>
<text x="737.6" y="143.8" font-size="10.8" fill="#222" text-anchor="end" font-weight="normal" >20</text>
<path d="M738.6,158.9 L741.2,158.9" stroke="#222" stroke-width="1"/>
<text x="737.6" y="161.8" font-size="10.8" fill="#222" text-anchor="end" font-weight="normal" >0</text>
<path d="M738.6,176.9 L741.2,176.9" stroke="#222" stroke-width="1"/>
<text x="737.6" y="179.8" font-size="10.8" fill="#222" text-anchor="end" font-weight="normal" >-20</text>
<text x="721.6" y="92.3" font-size="10.5" fill="#222" text-anchor="start" font-weight="normal" textLength="47.0" lengthAdjust="spacingAndGlyphs" transform="rotate(-90 721.6 92.3)" >SPV (mV)</text>
<text x="720.8" y="166.3" font-size="10.5" fill="#222" text-anchor="start" font-weight="normal" textLength="47.0" lengthAdjust="spacingAndGlyphs" transform="rotate(-90 720.8 166.3)" >SPV (mV)</text>
<path d="M749.8,177.2 L749.8,174.2" stroke="#222" stroke-width="0.9"/>
<text x="741.6" y="191.4" font-size="10" fill="#222" text-anchor="start" font-weight="normal" textLength="11.2" lengthAdjust="spacingAndGlyphs" >10</text>
<text x="753.0" y="186.4" font-size="6.0" fill="#222" text-anchor="start" font-weight="normal" textLength="5.8" lengthAdjust="spacingAndGlyphs" >-7</text>
<path d="M758.8,177.2 L758.8,175.6" stroke="#222" stroke-width="0.5"/>
<path d="M764.1,177.2 L764.1,175.6" stroke="#222" stroke-width="0.5"/>
<path d="M767.8,177.2 L767.8,175.6" stroke="#222" stroke-width="0.5"/>
<path d="M770.8,177.2 L770.8,175.6" stroke="#222" stroke-width="0.5"/>
<path d="M773.1,177.2 L773.1,175.6" stroke="#222" stroke-width="0.5"/>
<path d="M775.1,177.2 L775.1,175.6" stroke="#222" stroke-width="0.5"/>
<path d="M776.9,177.2 L776.9,175.6" stroke="#222" stroke-width="0.5"/>
<path d="M778.4,177.2 L778.4,175.6" stroke="#222" stroke-width="0.5"/>
<path d="M779.8,177.2 L779.8,174.2" stroke="#222" stroke-width="0.9"/>
<text x="771.6" y="191.4" font-size="10" fill="#222" text-anchor="start" font-weight="normal" textLength="11.2" lengthAdjust="spacingAndGlyphs" >10</text>
<text x="783.0" y="186.4" font-size="6.0" fill="#222" text-anchor="start" font-weight="normal" textLength="5.8" lengthAdjust="spacingAndGlyphs" >-6</text>
<path d="M788.8,177.2 L788.8,175.6" stroke="#222" stroke-width="0.5"/>
<path d="M794.1,177.2 L794.1,175.6" stroke="#222" stroke-width="0.5"/>
<path d="M797.8,177.2 L797.8,175.6" stroke="#222" stroke-width="0.5"/>
<path d="M800.7,177.2 L800.7,175.6" stroke="#222" stroke-width="0.5"/>
<path d="M803.1,177.2 L803.1,175.6" stroke="#222" stroke-width="0.5"/>
<path d="M805.1,177.2 L805.1,175.6" stroke="#222" stroke-width="0.5"/>
<path d="M806.9,177.2 L806.9,175.6" stroke="#222" stroke-width="0.5"/>
<path d="M808.4,177.2 L808.4,175.6" stroke="#222" stroke-width="0.5"/>
<path d="M809.8,177.2 L809.8,174.2" stroke="#222" stroke-width="0.9"/>
<text x="801.6" y="191.4" font-size="10" fill="#222" text-anchor="start" font-weight="normal" textLength="11.2" lengthAdjust="spacingAndGlyphs" >10</text>
<text x="813.0" y="186.4" font-size="6.0" fill="#222" text-anchor="start" font-weight="normal" textLength="5.8" lengthAdjust="spacingAndGlyphs" >-5</text>
<path d="M818.8,177.2 L818.8,175.6" stroke="#222" stroke-width="0.5"/>
<path d="M824.1,177.2 L824.1,175.6" stroke="#222" stroke-width="0.5"/>
<path d="M827.8,177.2 L827.8,175.6" stroke="#222" stroke-width="0.5"/>
<path d="M830.7,177.2 L830.7,175.6" stroke="#222" stroke-width="0.5"/>
<path d="M833.1,177.2 L833.1,175.6" stroke="#222" stroke-width="0.5"/>
<path d="M835.1,177.2 L835.1,175.6" stroke="#222" stroke-width="0.5"/>
<path d="M836.8,177.2 L836.8,175.6" stroke="#222" stroke-width="0.5"/>
<path d="M838.4,177.2 L838.4,175.6" stroke="#222" stroke-width="0.5"/>
<path d="M839.7,177.2 L839.7,174.2" stroke="#222" stroke-width="0.9"/>
<text x="831.5" y="191.4" font-size="10" fill="#222" text-anchor="start" font-weight="normal" textLength="11.2" lengthAdjust="spacingAndGlyphs" >10</text>
<text x="842.9" y="186.4" font-size="6.0" fill="#222" text-anchor="start" font-weight="normal" textLength="5.8" lengthAdjust="spacingAndGlyphs" >-4</text>
<path d="M848.8,177.2 L848.8,175.6" stroke="#222" stroke-width="0.5"/>
<path d="M854.0,177.2 L854.0,175.6" stroke="#222" stroke-width="0.5"/>
<path d="M857.8,177.2 L857.8,175.6" stroke="#222" stroke-width="0.5"/>
<path d="M860.7,177.2 L860.7,175.6" stroke="#222" stroke-width="0.5"/>
<path d="M863.1,177.2 L863.1,175.6" stroke="#222" stroke-width="0.5"/>
<path d="M865.1,177.2 L865.1,175.6" stroke="#222" stroke-width="0.5"/>
<path d="M866.8,177.2 L866.8,175.6" stroke="#222" stroke-width="0.5"/>
<path d="M868.3,177.2 L868.3,175.6" stroke="#222" stroke-width="0.5"/>
<path d="M869.7,177.2 L869.7,174.2" stroke="#222" stroke-width="0.9"/>
<text x="861.5" y="191.4" font-size="10" fill="#222" text-anchor="start" font-weight="normal" textLength="11.2" lengthAdjust="spacingAndGlyphs" >10</text>
<text x="872.9" y="186.4" font-size="6.0" fill="#222" text-anchor="start" font-weight="normal" textLength="5.8" lengthAdjust="spacingAndGlyphs" >-3</text>
<path d="M878.7,177.2 L878.7,175.6" stroke="#222" stroke-width="0.5"/>
<path d="M884.0,177.2 L884.0,175.6" stroke="#222" stroke-width="0.5"/>
<path d="M887.8,177.2 L887.8,175.6" stroke="#222" stroke-width="0.5"/>
<path d="M890.7,177.2 L890.7,175.6" stroke="#222" stroke-width="0.5"/>
<path d="M893.0,177.2 L893.0,175.6" stroke="#222" stroke-width="0.5"/>
<path d="M895.1,177.2 L895.1,175.6" stroke="#222" stroke-width="0.5"/>
<path d="M896.8,177.2 L896.8,175.6" stroke="#222" stroke-width="0.5"/>
<path d="M898.3,177.2 L898.3,175.6" stroke="#222" stroke-width="0.5"/>
<path d="M899.7,177.2 L899.7,174.2" stroke="#222" stroke-width="0.9"/>
<text x="891.5" y="191.4" font-size="10" fill="#222" text-anchor="start" font-weight="normal" textLength="11.2" lengthAdjust="spacingAndGlyphs" >10</text>
<text x="902.9" y="186.4" font-size="6.0" fill="#222" text-anchor="start" font-weight="normal" textLength="5.8" lengthAdjust="spacingAndGlyphs" >-2</text>
<path d="M908.7,177.2 L908.7,175.6" stroke="#222" stroke-width="0.5"/>
<path d="M914.0,177.2 L914.0,175.6" stroke="#222" stroke-width="0.5"/>
<path d="M917.7,177.2 L917.7,175.6" stroke="#222" stroke-width="0.5"/>
<text x="811.5" y="201.8" font-size="10.6" fill="#222" text-anchor="start" font-weight="normal" textLength="39.0" lengthAdjust="spacingAndGlyphs" >Time (s)</text>
<path d="M745.60,62.97 L746.58,62.97 L747.55,62.97 L748.52,62.97 L749.49,62.97 L750.47,62.97 L751.44,62.97 L752.41,62.97 L753.38,62.97 L754.36,62.97 L755.33,62.97 L756.30,62.97 L757.28,62.97 L758.25,62.97 L759.22,62.97 L760.19,62.97 L761.17,62.97 L762.14,62.97 L763.11,62.97 L764.08,62.97 L765.06,62.97 L766.03,62.97 L767.00,62.97 L767.97,62.97 L768.95,62.97 L769.92,62.97 L770.89,62.97 L771.87,62.97 L772.84,62.97 L773.81,62.97 L774.78,62.97 L775.76,62.97 L776.73,62.97 L777.70,62.97 L778.67,62.97 L779.65,62.97 L780.62,62.97 L781.59,62.97 L782.56,62.97 L783.54,62.97 L784.51,62.97 L785.48,62.97 L786.46,62.97 L787.43,62.97 L788.40,62.97 L789.37,62.97 L790.35,62.97 L791.32,62.97 L792.29,62.97 L793.26,62.97 L794.24,62.97 L795.21,62.97 L796.18,62.97 L797.16,62.97 L798.13,62.97 L799.10,62.97 L800.07,62.97 L801.05,62.97 L802.02,62.97 L802.99,62.97 L803.96,62.97 L804.94,62.97 L805.91,62.97 L806.88,62.97 L807.85,62.97 L808.83,62.97 L809.80,62.97 L810.77,62.97 L811.75,62.97 L812.72,62.97 L813.69,62.97 L814.66,62.97 L815.64,62.97 L816.61,62.97 L817.58,62.97 L818.55,62.97 L819.53,62.97 L820.50,62.97 L821.47,62.97 L822.44,62.97 L823.42,62.97 L824.39,62.97 L825.36,62.97 L826.34,62.97 L827.31,62.97 L828.28,62.97 L829.25,62.97 L830.23,62.97 L831.20,62.97 L832.17,62.97 L833.14,62.97 L834.12,62.97 L835.09,62.97 L836.06,62.97 L837.04,62.97 L838.01,62.97 L838.98,62.97 L839.95,62.97 L840.93,62.97 L841.90,62.97 L842.87,62.97 L843.84,62.97 L844.82,62.97 L845.79,62.97 L846.76,62.97 L847.73,62.97 L848.71,62.97 L849.68,62.97 L850.65,62.97 L851.63,62.97 L852.60,62.97 L853.57,62.97 L854.54,62.97 L855.52,62.97 L856.49,62.97 L857.46,62.97 L858.43,62.97 L859.41,62.97 L860.38,62.97 L861.35,62.97 L862.32,62.97 L863.30,62.97 L864.27,62.98 L865.24,62.99 L866.22,63.00 L867.19,63.01 L868.16,63.03 L869.13,63.05 L870.11,63.07 L871.08,63.09 L872.05,63.12 L873.02,63.15 L874.00,63.19 L874.97,63.23 L875.94,63.27 L876.92,63.31 L877.89,63.36 L878.86,63.41 L879.83,63.46 L880.81,63.52 L881.78,63.58 L882.75,63.64 L883.72,63.71 L884.70,63.78 L885.67,63.86 L886.64,63.94 L887.61,64.02 L888.59,64.10 L889.56,64.19 L890.53,64.29 L891.51,64.38 L892.48,64.48 L893.45,64.59 L894.42,64.70 L895.40,64.81 L896.37,64.92 L897.34,65.04 L898.31,65.17 L899.29,65.30 L900.26,65.43 L901.23,65.56 L902.20,65.70 L903.18,65.84 L904.15,65.99 L905.12,66.14 L906.10,66.30 L907.07,66.46 L908.04,66.62 L909.01,66.79 L909.99,66.96 L910.96,67.13 L911.93,67.31 L912.90,67.50 L913.88,67.69 L914.85,67.88 L915.82,68.07 L916.80,68.27 L917.77,68.48 L918.74,68.69 L919.71,68.90 L920.69,69.12" fill="none" stroke="#8a2be2" stroke-width="1.5"/>
<path d="M745.90,71.32 L746.87,74.27 L747.84,76.14 L748.82,77.35 L749.79,78.15 L750.76,78.71 L751.73,79.10 L752.70,79.41 L753.67,79.65 L754.64,79.86 L755.61,80.04 L756.58,80.20 L757.55,80.36 L758.53,80.51 L759.50,80.65 L760.47,80.78 L761.44,80.92 L762.41,81.05 L763.38,81.17 L764.35,81.30 L765.32,81.42 L766.29,81.54 L767.27,81.65 L768.24,81.77 L769.21,81.88 L770.18,81.99 L771.15,82.10 L772.12,82.20 L773.09,82.31 L774.06,82.41 L775.03,82.51 L776.00,82.60 L776.98,82.70 L777.95,82.79 L778.92,82.88 L779.89,82.97 L780.86,83.06 L781.83,83.15 L782.80,83.23 L783.77,83.31 L784.74,83.40 L785.71,83.47 L786.69,83.55 L787.66,83.63 L788.63,83.70 L789.60,83.78 L790.57,83.85 L791.54,83.92 L792.51,83.99 L793.48,84.06 L794.45,84.12 L795.42,84.19 L796.40,84.25 L797.37,84.31 L798.34,84.38 L799.31,84.44 L800.28,84.49 L801.25,84.55 L802.22,84.61 L803.19,84.66 L804.16,84.72 L805.13,84.77 L806.11,84.82 L807.08,84.88 L808.05,84.93 L809.02,84.97 L809.99,85.02 L810.96,85.07 L811.93,85.12 L812.90,85.16 L813.87,85.21 L814.84,85.25 L815.82,85.29 L816.79,85.33 L817.76,85.37 L818.73,85.42 L819.70,85.45 L820.67,85.49 L821.64,85.53 L822.61,85.57 L823.58,85.60 L824.56,85.64 L825.53,85.68 L826.50,85.71 L827.47,85.74 L828.44,85.78 L829.41,85.81 L830.38,85.84 L831.35,85.87 L832.32,85.90 L833.29,85.93 L834.27,85.96 L835.24,85.99 L836.21,86.02 L837.18,86.04 L838.15,86.07 L839.12,86.10 L840.09,86.12 L841.06,86.15 L842.03,86.17 L843.00,86.20 L843.98,86.22 L844.95,86.25 L845.92,86.27 L846.89,86.29 L847.86,86.31 L848.83,86.33 L849.80,86.36 L850.77,86.38 L851.74,86.40 L852.71,86.42 L853.69,86.44 L854.66,86.45 L855.63,86.47 L856.60,86.49 L857.57,86.51 L858.54,86.53 L859.51,86.55 L860.48,86.56 L861.45,86.58 L862.42,86.60 L863.40,86.61 L864.37,86.63 L865.34,86.64 L866.31,86.66 L867.28,86.67 L868.25,86.69 L869.22,86.70 L870.19,86.71 L871.16,86.73 L872.14,86.74 L873.11,86.75 L874.08,86.77 L875.05,86.78 L876.02,86.79 L876.99,86.80 L877.96,86.82 L878.93,86.83 L879.90,86.84 L880.87,86.85 L881.85,86.86 L882.82,86.87 L883.79,86.88 L884.76,86.89 L885.73,86.90 L886.70,86.91 L887.67,86.92 L888.64,86.93 L889.61,86.94 L890.58,86.95 L891.56,86.96 L892.53,86.97 L893.50,86.98 L894.47,86.98 L895.44,86.99 L896.41,87.00 L897.38,87.01 L898.35,87.02 L899.32,87.02 L900.29,87.03 L901.27,87.04 L902.24,87.05 L903.21,87.05 L904.18,87.06 L905.15,87.07 L906.12,87.07 L907.09,87.08 L908.06,87.09 L909.03,87.09 L910.00,87.10 L910.98,87.10 L911.95,87.11 L912.92,87.12 L913.89,87.12 L914.86,87.13 L915.83,87.13 L916.80,87.14 L917.77,87.14 L918.74,87.15 L919.71,87.15 L920.69,87.16" fill="none" stroke="#2a7af0" stroke-width="1.5"/>
<path d="M745.00,101.93 L745.98,101.01 L746.96,100.31 L747.93,99.77 L748.91,99.34 L749.88,99.00 L750.86,98.72 L751.84,98.49 L752.81,98.29 L753.79,98.11 L754.76,97.94 L755.74,97.79 L756.72,97.65 L757.69,97.51 L758.67,97.38 L759.64,97.25 L760.62,97.12 L761.60,97.00 L762.57,96.87 L763.55,96.75 L764.52,96.63 L765.50,96.50 L766.48,96.38 L767.45,96.26 L768.43,96.14 L769.40,96.02 L770.38,95.90 L771.36,95.78 L772.33,95.66 L773.31,95.54 L774.28,95.42 L775.26,95.29 L776.24,95.17 L777.21,95.05 L778.19,94.93 L779.16,94.81 L780.14,94.69 L781.12,94.57 L782.09,94.45 L783.07,94.33 L784.04,94.21 L785.02,94.09 L786.00,93.97 L786.97,93.85 L787.95,93.73 L788.92,93.61 L789.90,93.49 L790.88,93.37 L791.85,93.24 L792.83,93.12 L793.80,93.00 L794.78,92.88 L795.76,92.76 L796.73,92.64 L797.71,92.52 L798.68,92.41 L799.66,92.29 L800.64,92.17 L801.61,92.05 L802.59,91.93 L803.56,91.81 L804.54,91.69 L805.52,91.57 L806.49,91.45 L807.47,91.34 L808.44,91.22 L809.42,91.10 L810.40,90.99 L811.37,90.87 L812.35,90.76 L813.32,90.64 L814.30,90.53 L815.28,90.41 L816.25,90.30 L817.23,90.19 L818.20,90.08 L819.18,89.97 L820.16,89.86 L821.13,89.76 L822.11,89.65 L823.08,89.55 L824.06,89.45 L825.04,89.35 L826.01,89.25 L826.99,89.15 L827.96,89.06 L828.94,88.97 L829.92,88.88 L830.89,88.79 L831.87,88.71 L832.84,88.63 L833.82,88.56 L834.80,88.48 L835.77,88.41 L836.75,88.35 L837.72,88.28 L838.70,88.22 L839.68,88.17 L840.65,88.12 L841.63,88.07 L842.60,88.02 L843.58,87.98 L844.56,87.94 L845.53,87.90 L846.51,87.87 L847.48,87.84 L848.46,87.81 L849.44,87.78 L850.41,87.76 L851.39,87.74 L852.36,87.72 L853.34,87.70 L854.32,87.68 L855.29,87.67 L856.27,87.65 L857.24,87.64 L858.22,87.63 L859.20,87.62 L860.17,87.61 L861.15,87.60 L862.13,87.60 L863.10,87.59 L864.08,87.58 L865.05,87.58 L866.03,87.57 L867.01,87.57 L867.98,87.57 L868.96,87.56 L869.93,87.56 L870.91,87.56 L871.89,87.56 L872.86,87.55 L873.84,87.55 L874.81,87.55 L875.79,87.55 L876.77,87.55 L877.74,87.55 L878.72,87.54 L879.69,87.54 L880.67,87.54 L881.65,87.54 L882.62,87.54 L883.60,87.54 L884.57,87.54 L885.55,87.54 L886.53,87.54 L887.50,87.54 L888.48,87.54 L889.45,87.54 L890.43,87.54 L891.41,87.54 L892.38,87.54 L893.36,87.54 L894.33,87.54 L895.31,87.54 L896.29,87.54 L897.26,87.54 L898.24,87.54 L899.21,87.54 L900.19,87.54 L901.17,87.54 L902.14,87.54 L903.12,87.54 L904.09,87.54 L905.07,87.54 L906.05,87.54 L907.02,87.54 L908.00,87.54 L908.97,87.54 L909.95,87.54 L910.93,87.54 L911.90,87.54 L912.88,87.54 L913.85,87.54 L914.83,87.54 L915.81,87.54 L916.78,87.54 L917.76,87.54 L918.73,87.54 L919.71,87.54 L920.69,87.54" fill="none" stroke="#f04848" stroke-width="1.5"/>
<path d="M745,40.8 L755.5,40.8" stroke="#8a2be2" stroke-width="1.6"/>
<text x="759.8" y="42.4" font-size="10" fill="#222" text-anchor="start" font-weight="normal" textLength="63.5" lengthAdjust="spacingAndGlyphs" >Trapped holes</text>
<path d="M832,40.8 L843,40.8" stroke="#2a7af0" stroke-width="1.6"/>
<text x="851.5" y="43.2" font-size="10" fill="#222" text-anchor="start" font-weight="normal" textLength="65.5" lengthAdjust="spacingAndGlyphs" >Holes diffusion</text>
<path d="M744,55.6 L754.5,55.6" stroke="#f04848" stroke-width="1.6"/>
<text x="762.0" y="57.5" font-size="10" fill="#222" text-anchor="start" font-weight="normal" textLength="82.0" lengthAdjust="spacingAndGlyphs" >Electrons diffusion</text>
<text x="841.0" y="76.0" font-size="10" fill="#8a2be2" text-anchor="start" font-weight="normal" textLength="62.5" lengthAdjust="spacingAndGlyphs" >Trapped holes</text>
<path d="M832.5,129 L832.5,96" stroke="#18b0f0" stroke-width="2.3" stroke-dasharray="1.4,0.7"/>
<path d="M832.5,90.4 L828.6,97.4 L832.5,95.8 L836.4,97.4 Z" fill="#18b0f0"/>
<text x="838.9" y="119.0" font-size="10" fill="#18b0f0" text-anchor="start" font-weight="normal" textLength="48.5" lengthAdjust="spacingAndGlyphs" >decoupling</text>
<g fill="none" stroke="#22a860" stroke-width="0.7" opacity="0.9">
<circle cx="745.6" cy="135.3" r="1.2"/>
<circle cx="746.3" cy="136.2" r="1.2"/>
<circle cx="747.0" cy="136.0" r="1.2"/>
<circle cx="747.6" cy="137.4" r="1.2"/>
<circle cx="748.3" cy="137.0" r="1.2"/>
<circle cx="749.0" cy="137.6" r="1.2"/>
<circle cx="749.7" cy="138.4" r="1.2"/>
<circle cx="750.3" cy="137.9" r="1.2"/>
<circle cx="751.0" cy="138.8" r="1.2"/>
<circle cx="751.7" cy="138.3" r="1.2"/>
<circle cx="752.4" cy="138.9" r="1.2"/>
<circle cx="753.0" cy="139.0" r="1.2"/>
<circle cx="753.7" cy="138.5" r="1.2"/>
<circle cx="754.4" cy="137.8" r="1.2"/>
<circle cx="755.1" cy="139.0" r="1.2"/>
<circle cx="755.7" cy="138.8" r="1.2"/>
<circle cx="756.4" cy="138.1" r="1.2"/>
<circle cx="757.1" cy="137.6" r="1.2"/>
<circle cx="757.8" cy="138.2" r="1.2"/>
<circle cx="758.4" cy="138.4" r="1.2"/>
<circle cx="759.1" cy="137.4" r="1.2"/>
<circle cx="759.8" cy="138.9" r="1.2"/>
<circle cx="760.5" cy="137.5" r="1.2"/>
<circle cx="761.2" cy="138.3" r="1.2"/>
<circle cx="761.8" cy="138.5" r="1.2"/>
<circle cx="762.5" cy="138.5" r="1.2"/>
<circle cx="763.2" cy="138.1" r="1.2"/>
<circle cx="763.9" cy="137.2" r="1.2"/>
<circle cx="764.5" cy="138.2" r="1.2"/>
<circle cx="765.2" cy="137.4" r="1.2"/>
<circle cx="765.9" cy="137.3" r="1.2"/>
<circle cx="766.6" cy="137.6" r="1.2"/>
<circle cx="767.2" cy="137.3" r="1.2"/>
<circle cx="767.9" cy="138.0" r="1.2"/>
<circle cx="768.6" cy="137.9" r="1.2"/>
<circle cx="769.3" cy="137.6" r="1.2"/>
<circle cx="769.9" cy="136.8" r="1.2"/>
<circle cx="770.6" cy="137.1" r="1.2"/>
<circle cx="771.3" cy="137.2" r="1.2"/>
<circle cx="772.0" cy="136.7" r="1.2"/>
<circle cx="772.6" cy="136.8" r="1.2"/>
<circle cx="773.3" cy="137.0" r="1.2"/>
<circle cx="774.0" cy="136.2" r="1.2"/>
<circle cx="774.7" cy="136.2" r="1.2"/>
<circle cx="775.3" cy="136.9" r="1.2"/>
<circle cx="776.0" cy="136.3" r="1.2"/>
<circle cx="776.7" cy="136.3" r="1.2"/>
<circle cx="777.4" cy="135.7" r="1.2"/>
<circle cx="778.1" cy="135.8" r="1.2"/>
<circle cx="778.7" cy="136.5" r="1.2"/>
<circle cx="779.4" cy="135.3" r="1.2"/>
<circle cx="780.1" cy="136.6" r="1.2"/>
<circle cx="780.8" cy="136.1" r="1.2"/>
<circle cx="781.4" cy="135.5" r="1.2"/>
<circle cx="782.1" cy="136.4" r="1.2"/>
<circle cx="782.8" cy="135.8" r="1.2"/>
<circle cx="783.5" cy="136.5" r="1.2"/>
<circle cx="784.1" cy="135.4" r="1.2"/>
<circle cx="784.8" cy="135.2" r="1.2"/>
<circle cx="785.5" cy="135.4" r="1.2"/>
<circle cx="786.2" cy="134.9" r="1.2"/>
<circle cx="786.8" cy="135.7" r="1.2"/>
<circle cx="787.5" cy="135.1" r="1.2"/>
<circle cx="788.2" cy="135.2" r="1.2"/>
<circle cx="788.9" cy="135.1" r="1.2"/>
<circle cx="789.5" cy="135.3" r="1.2"/>
<circle cx="790.2" cy="134.6" r="1.2"/>
<circle cx="790.9" cy="134.4" r="1.2"/>
<circle cx="791.6" cy="135.1" r="1.2"/>
<circle cx="792.2" cy="134.7" r="1.2"/>
<circle cx="792.9" cy="135.7" r="1.2"/>
<circle cx="793.6" cy="134.6" r="1.2"/>
<circle cx="794.3" cy="134.6" r="1.2"/>
<circle cx="795.0" cy="134.0" r="1.2"/>
<circle cx="795.6" cy="134.2" r="1.2"/>
<circle cx="796.3" cy="135.1" r="1.2"/>
<circle cx="797.0" cy="134.8" r="1.2"/>
<circle cx="797.7" cy="134.3" r="1.2"/>
<circle cx="798.3" cy="135.3" r="1.2"/>
<circle cx="799.0" cy="134.6" r="1.2"/>
<circle cx="799.7" cy="135.0" r="1.2"/>
<circle cx="800.4" cy="135.1" r="1.2"/>
<circle cx="801.0" cy="135.1" r="1.2"/>
<circle cx="801.7" cy="133.9" r="1.2"/>
<circle cx="802.4" cy="134.9" r="1.2"/>
<circle cx="803.1" cy="134.7" r="1.2"/>
<circle cx="803.7" cy="134.4" r="1.2"/>
<circle cx="804.4" cy="133.6" r="1.2"/>
<circle cx="805.1" cy="134.8" r="1.2"/>
<circle cx="805.8" cy="134.2" r="1.2"/>
<circle cx="806.4" cy="134.0" r="1.2"/>
<circle cx="807.1" cy="133.4" r="1.2"/>
<circle cx="807.8" cy="133.5" r="1.2"/>
<circle cx="808.5" cy="133.4" r="1.2"/>
<circle cx="809.1" cy="134.3" r="1.2"/>
<circle cx="809.8" cy="134.0" r="1.2"/>
<circle cx="810.5" cy="134.1" r="1.2"/>
<circle cx="811.2" cy="133.2" r="1.2"/>
<circle cx="811.9" cy="133.0" r="1.2"/>
<circle cx="812.5" cy="134.3" r="1.2"/>
<circle cx="813.2" cy="134.2" r="1.2"/>
<circle cx="813.9" cy="134.1" r="1.2"/>
<circle cx="814.6" cy="134.1" r="1.2"/>
<circle cx="815.2" cy="133.6" r="1.2"/>
<circle cx="815.9" cy="133.4" r="1.2"/>
<circle cx="816.6" cy="133.9" r="1.2"/>
<circle cx="817.3" cy="134.3" r="1.2"/>
<circle cx="817.9" cy="133.6" r="1.2"/>
<circle cx="818.6" cy="133.6" r="1.2"/>
<circle cx="819.3" cy="133.3" r="1.2"/>
<circle cx="820.0" cy="132.6" r="1.2"/>
<circle cx="820.6" cy="133.0" r="1.2"/>
<circle cx="821.3" cy="133.3" r="1.2"/>
<circle cx="822.0" cy="133.1" r="1.2"/>
<circle cx="822.7" cy="133.0" r="1.2"/>
<circle cx="823.3" cy="133.9" r="1.2"/>
<circle cx="824.0" cy="132.5" r="1.2"/>
<circle cx="824.7" cy="132.7" r="1.2"/>
<circle cx="825.4" cy="132.5" r="1.2"/>
<circle cx="826.0" cy="132.6" r="1.2"/>
<circle cx="826.7" cy="133.2" r="1.2"/>
<circle cx="827.4" cy="133.2" r="1.2"/>
<circle cx="828.1" cy="133.7" r="1.2"/>
<circle cx="828.8" cy="132.8" r="1.2"/>
<circle cx="829.4" cy="133.7" r="1.2"/>
<circle cx="830.1" cy="133.6" r="1.2"/>
<circle cx="830.8" cy="133.4" r="1.2"/>
<circle cx="831.5" cy="133.4" r="1.2"/>
<circle cx="832.1" cy="133.1" r="1.2"/>
<circle cx="832.8" cy="133.6" r="1.2"/>
<circle cx="833.5" cy="133.6" r="1.2"/>
<circle cx="834.2" cy="133.4" r="1.2"/>
<circle cx="834.8" cy="133.4" r="1.2"/>
<circle cx="835.5" cy="133.0" r="1.2"/>
<circle cx="836.2" cy="133.5" r="1.2"/>
<circle cx="836.9" cy="132.1" r="1.2"/>
<circle cx="837.5" cy="132.5" r="1.2"/>
<circle cx="838.2" cy="133.2" r="1.2"/>
<circle cx="838.9" cy="133.0" r="1.2"/>
<circle cx="839.6" cy="132.9" r="1.2"/>
<circle cx="840.2" cy="132.8" r="1.2"/>
<circle cx="840.9" cy="133.2" r="1.2"/>
<circle cx="841.6" cy="132.0" r="1.2"/>
<circle cx="842.3" cy="131.7" r="1.2"/>
<circle cx="842.9" cy="132.6" r="1.2"/>
<circle cx="843.6" cy="132.5" r="1.2"/>
<circle cx="844.3" cy="133.1" r="1.2"/>
<circle cx="845.0" cy="133.1" r="1.2"/>
<circle cx="845.7" cy="132.7" r="1.2"/>
<circle cx="846.3" cy="132.8" r="1.2"/>
<circle cx="847.0" cy="131.9" r="1.2"/>
<circle cx="847.7" cy="132.9" r="1.2"/>
<circle cx="848.4" cy="133.1" r="1.2"/>
<circle cx="849.0" cy="131.6" r="1.2"/>
<circle cx="849.7" cy="132.3" r="1.2"/>
<circle cx="850.4" cy="132.9" r="1.2"/>
<circle cx="851.1" cy="132.2" r="1.2"/>
<circle cx="851.7" cy="133.0" r="1.2"/>
<circle cx="852.4" cy="132.2" r="1.2"/>
<circle cx="853.1" cy="131.5" r="1.2"/>
<circle cx="853.8" cy="131.6" r="1.2"/>
<circle cx="854.4" cy="131.9" r="1.2"/>
<circle cx="855.1" cy="132.6" r="1.2"/>
<circle cx="855.8" cy="132.4" r="1.2"/>
<circle cx="856.5" cy="132.7" r="1.2"/>
<circle cx="857.1" cy="131.7" r="1.2"/>
<circle cx="857.8" cy="132.1" r="1.2"/>
<circle cx="858.5" cy="131.7" r="1.2"/>
<circle cx="859.2" cy="132.4" r="1.2"/>
<circle cx="859.8" cy="132.5" r="1.2"/>
<circle cx="860.5" cy="131.6" r="1.2"/>
<circle cx="861.2" cy="131.3" r="1.2"/>
<circle cx="861.9" cy="131.5" r="1.2"/>
<circle cx="862.6" cy="131.5" r="1.2"/>
<circle cx="863.2" cy="131.5" r="1.2"/>
<circle cx="863.9" cy="131.6" r="1.2"/>
<circle cx="864.6" cy="132.4" r="1.2"/>
<circle cx="865.3" cy="131.9" r="1.2"/>
<circle cx="865.9" cy="132.2" r="1.2"/>
<circle cx="866.6" cy="132.7" r="1.2"/>
<circle cx="867.3" cy="132.7" r="1.2"/>
<circle cx="868.0" cy="132.3" r="1.2"/>
<circle cx="868.6" cy="132.3" r="1.2"/>
<circle cx="869.3" cy="131.6" r="1.2"/>
<circle cx="870.0" cy="131.1" r="1.2"/>
<circle cx="870.7" cy="132.0" r="1.2"/>
<circle cx="871.3" cy="131.1" r="1.2"/>
<circle cx="872.0" cy="131.1" r="1.2"/>
<circle cx="872.7" cy="131.1" r="1.2"/>
<circle cx="873.4" cy="132.1" r="1.2"/>
<circle cx="874.0" cy="132.3" r="1.2"/>
<circle cx="874.7" cy="132.3" r="1.2"/>
<circle cx="875.4" cy="132.3" r="1.2"/>
<circle cx="876.1" cy="132.3" r="1.2"/>
<circle cx="876.7" cy="131.6" r="1.2"/>
<circle cx="877.4" cy="131.2" r="1.2"/>
<circle cx="878.1" cy="131.3" r="1.2"/>
<circle cx="878.8" cy="131.9" r="1.2"/>
<circle cx="879.5" cy="131.6" r="1.2"/>
<circle cx="880.1" cy="131.4" r="1.2"/>
<circle cx="880.8" cy="132.6" r="1.2"/>
<circle cx="881.5" cy="131.7" r="1.2"/>
<circle cx="882.2" cy="131.3" r="1.2"/>
<circle cx="882.8" cy="131.5" r="1.2"/>
<circle cx="883.5" cy="131.6" r="1.2"/>
<circle cx="884.2" cy="132.0" r="1.2"/>
<circle cx="884.9" cy="132.6" r="1.2"/>
<circle cx="885.5" cy="131.6" r="1.2"/>
<circle cx="886.2" cy="132.4" r="1.2"/>
<circle cx="886.9" cy="131.7" r="1.2"/>
<circle cx="887.6" cy="131.4" r="1.2"/>
<circle cx="888.2" cy="132.4" r="1.2"/>
<circle cx="888.9" cy="132.4" r="1.2"/>
<circle cx="889.6" cy="131.6" r="1.2"/>
<circle cx="890.3" cy="132.0" r="1.2"/>
<circle cx="890.9" cy="132.9" r="1.2"/>
<circle cx="891.6" cy="133.1" r="1.2"/>
<circle cx="892.3" cy="133.1" r="1.2"/>
<circle cx="893.0" cy="131.9" r="1.2"/>
<circle cx="893.6" cy="132.1" r="1.2"/>
<circle cx="894.3" cy="133.3" r="1.2"/>
<circle cx="895.0" cy="132.2" r="1.2"/>
<circle cx="895.7" cy="132.0" r="1.2"/>
<circle cx="896.4" cy="132.6" r="1.2"/>
<circle cx="897.0" cy="133.2" r="1.2"/>
<circle cx="897.7" cy="133.0" r="1.2"/>
<circle cx="898.4" cy="133.7" r="1.2"/>
<circle cx="899.1" cy="134.0" r="1.2"/>
<circle cx="899.7" cy="132.5" r="1.2"/>
<circle cx="900.4" cy="133.1" r="1.2"/>
<circle cx="901.1" cy="133.4" r="1.2"/>
<circle cx="901.8" cy="132.8" r="1.2"/>
<circle cx="902.4" cy="133.7" r="1.2"/>
<circle cx="903.1" cy="133.1" r="1.2"/>
<circle cx="903.8" cy="133.3" r="1.2"/>
<circle cx="904.5" cy="134.4" r="1.2"/>
<circle cx="905.1" cy="134.4" r="1.2"/>
<circle cx="905.8" cy="134.5" r="1.2"/>
<circle cx="906.5" cy="134.7" r="1.2"/>
<circle cx="907.2" cy="134.2" r="1.2"/>
<circle cx="907.8" cy="134.9" r="1.2"/>
<circle cx="908.5" cy="134.7" r="1.2"/>
<circle cx="909.2" cy="135.3" r="1.2"/>
<circle cx="909.9" cy="134.2" r="1.2"/>
<circle cx="910.5" cy="135.2" r="1.2"/>
<circle cx="911.2" cy="135.1" r="1.2"/>
<circle cx="911.9" cy="135.1" r="1.2"/>
<circle cx="912.6" cy="134.7" r="1.2"/>
<circle cx="913.3" cy="135.6" r="1.2"/>
<circle cx="913.9" cy="134.9" r="1.2"/>
<circle cx="914.6" cy="135.7" r="1.2"/>
<circle cx="915.3" cy="135.8" r="1.2"/>
<circle cx="916.0" cy="136.0" r="1.2"/>
<circle cx="916.6" cy="136.9" r="1.2"/>
<circle cx="917.3" cy="136.4" r="1.2"/>
<circle cx="918.0" cy="137.0" r="1.2"/>
<circle cx="918.7" cy="137.4" r="1.2"/>
<circle cx="919.3" cy="136.3" r="1.2"/>
<circle cx="920.0" cy="137.5" r="1.2"/>
<circle cx="920.7" cy="137.2" r="1.2"/>
</g>
<path d="M745.60,135.00 L746.58,135.94 L747.55,136.66 L748.52,137.21 L749.49,137.61 L750.47,137.91 L751.44,138.12 L752.41,138.26 L753.38,138.34 L754.36,138.38 L755.33,138.38 L756.30,138.36 L757.28,138.31 L758.25,138.25 L759.22,138.18 L760.19,138.10 L761.17,138.00 L762.14,137.91 L763.11,137.81 L764.08,137.70 L765.06,137.60 L766.03,137.49 L767.00,137.38 L767.97,137.27 L768.95,137.17 L769.92,137.06 L770.89,136.96 L771.87,136.85 L772.84,136.75 L773.81,136.65 L774.78,136.55 L775.76,136.45 L776.73,136.35 L777.70,136.25 L778.67,136.16 L779.65,136.07 L780.62,135.98 L781.59,135.89 L782.56,135.80 L783.54,135.71 L784.51,135.63 L785.48,135.54 L786.46,135.46 L787.43,135.38 L788.40,135.30 L789.37,135.22 L790.35,135.15 L791.32,135.07 L792.29,135.00 L793.26,134.92 L794.24,134.85 L795.21,134.78 L796.18,134.71 L797.16,134.65 L798.13,134.58 L799.10,134.51 L800.07,134.45 L801.05,134.39 L802.02,134.33 L802.99,134.27 L803.96,134.21 L804.94,134.15 L805.91,134.09 L806.88,134.03 L807.85,133.98 L808.83,133.92 L809.80,133.87 L810.77,133.82 L811.75,133.76 L812.72,133.71 L813.69,133.66 L814.66,133.61 L815.64,133.57 L816.61,133.52 L817.58,133.47 L818.55,133.43 L819.53,133.38 L820.50,133.34 L821.47,133.29 L822.44,133.25 L823.42,133.21 L824.39,133.17 L825.36,133.13 L826.34,133.09 L827.31,133.05 L828.28,133.01 L829.25,132.98 L830.23,132.94 L831.20,132.90 L832.17,132.87 L833.14,132.83 L834.12,132.80 L835.09,132.76 L836.06,132.73 L837.04,132.70 L838.01,132.67 L838.98,132.63 L839.95,132.60 L840.93,132.57 L841.90,132.54 L842.87,132.51 L843.84,132.49 L844.82,132.46 L845.79,132.43 L846.76,132.40 L847.73,132.38 L848.71,132.35 L849.68,132.32 L850.65,132.30 L851.63,132.27 L852.60,132.25 L853.57,132.22 L854.54,132.20 L855.52,132.18 L856.49,132.15 L857.46,132.13 L858.43,132.11 L859.41,132.09 L860.38,132.07 L861.35,132.05 L862.32,132.03 L863.30,132.01 L864.27,131.99 L865.24,131.97 L866.22,131.95 L867.19,131.93 L868.16,131.91 L869.13,131.89 L870.11,131.87 L871.08,131.86 L872.05,131.85 L873.02,131.84 L874.00,131.83 L874.97,131.83 L875.94,131.83 L876.92,131.84 L877.89,131.85 L878.86,131.86 L879.83,131.88 L880.81,131.90 L881.78,131.93 L882.75,131.96 L883.72,132.00 L884.70,132.04 L885.67,132.08 L886.64,132.13 L887.61,132.19 L888.59,132.25 L889.56,132.31 L890.53,132.38 L891.51,132.45 L892.48,132.53 L893.45,132.62 L894.42,132.70 L895.40,132.80 L896.37,132.90 L897.34,133.00 L898.31,133.11 L899.29,133.23 L900.26,133.35 L901.23,133.47 L902.20,133.60 L903.18,133.74 L904.15,133.88 L905.12,134.02 L906.10,134.18 L907.07,134.33 L908.04,134.50 L909.01,134.66 L909.99,134.84 L910.96,135.02 L911.93,135.20 L912.90,135.39 L913.88,135.59 L914.85,135.79 L915.82,135.99 L916.80,136.21 L917.77,136.42 L918.74,136.65 L919.71,136.88 L920.69,137.11" fill="none" stroke="#111" stroke-width="1.7"/>
<circle cx="741.6" cy="158.6" r="1.5" fill="none" stroke="#22a860" stroke-width="0.8"/>
<circle cx="744.6" cy="158.6" r="1.5" fill="none" stroke="#22a860" stroke-width="0.8"/>
<circle cx="745.6" cy="149.2" r="1.5" fill="none" stroke="#22a860" stroke-width="0.8"/>
<circle cx="753.6" cy="113.5" r="3.1" fill="none" stroke="#22a860" stroke-width="1"/>
<text x="766.6" y="117.0" font-size="10" fill="#222" text-anchor="start" font-weight="normal" textLength="34.0" lengthAdjust="spacingAndGlyphs" >3.74 eV</text>
<path d="M751.5,126.5 L765.4,126.5" stroke="#111" stroke-width="1.8"/>
<text x="768.4" y="130.0" font-size="10" fill="#222" text-anchor="start" font-weight="normal" textLength="27.5" lengthAdjust="spacingAndGlyphs" >Fitting</text>
<text x="40.9" y="280.3" font-size="9.6" fill="#2020e8" text-anchor="start" font-weight="normal" textLength="44.0" lengthAdjust="spacingAndGlyphs" ><tspan font-size="5.6" dy="-3.2">27</tspan><tspan dy="3.2"> Al NMR</tspan></text>
<text x="8.0" y="297.0" font-size="9.4" fill="#222" text-anchor="start" font-weight="normal" textLength="67.0" lengthAdjust="spacingAndGlyphs" >SSR-SrTiO<tspan font-size="6" dy="1.8">3</tspan><tspan dy="-1.8">: Al</tspan></text>
<text x="25.6" y="308.4" font-size="9.4" fill="#222" text-anchor="start" font-weight="normal" textLength="30.6" lengthAdjust="spacingAndGlyphs" >400 °C</text>
<text x="43.4" y="317.4" font-size="9.4" fill="#222" text-anchor="start" font-weight="normal" textLength="19.6" lengthAdjust="spacingAndGlyphs" >Mag.</text>
<text x="7.0" y="353.2" font-size="9.4" fill="#222" text-anchor="start" font-weight="normal" textLength="67.0" lengthAdjust="spacingAndGlyphs" >SSR-SrTiO<tspan font-size="6" dy="1.8">3</tspan><tspan dy="-1.8">: Al</tspan></text>
<text x="28.7" y="365.4" font-size="9.4" fill="#222" text-anchor="start" font-weight="normal" textLength="21.6" lengthAdjust="spacingAndGlyphs" >aged</text>
<text x="6.3" y="399.6" font-size="9.4" fill="#222" text-anchor="start" font-weight="normal" textLength="67.0" lengthAdjust="spacingAndGlyphs" >SSR-SrTiO<tspan font-size="6" dy="1.8">3</tspan><tspan dy="-1.8">: Al</tspan></text>
<text x="28.7" y="411.8" font-size="9.4" fill="#222" text-anchor="start" font-weight="normal" textLength="22.3" lengthAdjust="spacingAndGlyphs" >fresh</text>
<path d="M66,315.6 L145.7,315.6" stroke="#111" stroke-width="1.3"/>
<path d="M66.0,315.6 L66.0,313.4" stroke="#111" stroke-width="0.9"/>
<path d="M79.3,315.6 L79.3,313.4" stroke="#111" stroke-width="0.9"/>
<path d="M92.6,315.6 L92.6,313.4" stroke="#111" stroke-width="0.9"/>
<path d="M105.8,315.6 L105.8,313.4" stroke="#111" stroke-width="0.9"/>
<path d="M119.1,315.6 L119.1,313.4" stroke="#111" stroke-width="0.9"/>
<path d="M132.4,315.6 L132.4,313.4" stroke="#111" stroke-width="0.9"/>
<path d="M145.7,315.6 L145.7,313.4" stroke="#111" stroke-width="0.9"/>
<text x="97.5" y="294.4" font-size="9.6" fill="#222" text-anchor="middle" font-weight="normal" textLength="19.5" lengthAdjust="spacingAndGlyphs" >64.6</text>
<text x="129.8" y="294.4" font-size="9.6" fill="#222" text-anchor="middle" font-weight="normal" textLength="19.5" lengthAdjust="spacingAndGlyphs" >34.5</text>
<path d="M66.00,312.14 L67.25,311.50 L68.50,310.62 L69.75,310.73 L71.00,310.28 L72.25,310.15 L73.50,307.47 L74.75,307.52 L76.00,305.39 L77.25,304.00 L78.50,303.74 L79.75,301.53 L81.00,300.27 L82.25,299.64 L83.50,299.24 L84.75,297.63 L86.00,298.14 L87.25,298.35 L88.50,299.20 L89.75,300.77 L91.00,301.37 L92.25,302.83 L93.50,303.86 L94.75,306.09 L96.00,306.32 L97.25,307.48 L98.50,308.22 L99.75,306.92 L101.00,308.11 L102.25,309.49 L103.50,309.58 L104.75,308.07 L106.00,308.29 L107.25,309.29 L108.50,308.37 L109.75,308.68 L111.00,307.93 L112.25,308.95 L113.50,308.50 L114.75,307.84 L116.00,304.79 L117.25,305.05 L118.50,303.72 L119.75,301.32 L121.00,302.43 L122.25,302.18 L123.50,300.17 L124.75,302.40 L126.00,301.65 L127.25,302.84 L128.50,305.26 L129.75,306.01 L131.00,305.38 L132.25,307.06 L133.50,308.09 L134.75,308.26 L136.00,308.34 L137.25,308.98 L138.50,310.22 L139.75,308.51 L141.00,309.96 L142.25,309.68 L143.50,308.58 L144.75,309.38 L146.00,310.12" fill="none" stroke="#3a80e8" stroke-width="0.9"/>
<path d="M86.6,297.5 L86.6,315" stroke="#d060d8" stroke-width="0.9" stroke-dasharray="2,1.4"/>
<path d="M126.2,297.5 L126.2,315" stroke="#d060d8" stroke-width="0.9" stroke-dasharray="2,1.4"/>
<rect x="61.6" y="322" width="85" height="10.2" fill="none" stroke="#f0b818" stroke-width="1.9" stroke-dasharray="3.6,1.9"/>
<path d="M160.4,283 L160.4,392" stroke="#d060d8" stroke-width="0.9" stroke-dasharray="2,1.4"/>
<path d="M157.8,349 L157.8,392" stroke="#d060d8" stroke-width="0.9" stroke-dasharray="2,1.4"/>
<path d="M39.40,325.79 L39.88,325.47 L40.35,326.12 L40.83,325.98 L41.30,326.11 L41.78,325.50 L42.26,325.61 L42.73,325.46 L43.21,325.97 L43.68,325.62 L44.16,325.52 L44.64,325.72 L45.11,326.07 L45.59,326.00 L46.06,325.61 L46.54,325.53 L47.02,326.07 L47.49,325.83 L47.97,325.92 L48.45,325.49 L48.92,325.47 L49.40,325.91 L49.87,325.72 L50.35,325.48 L50.83,326.08 L51.30,325.87 L51.78,325.99 L52.25,325.48 L52.73,326.02 L53.21,325.47 L53.68,326.03 L54.16,325.74 L54.63,325.66 L55.11,325.81 L55.59,326.07 L56.06,325.61 L56.54,325.51 L57.01,325.79 L57.49,325.59 L57.97,325.50 L58.44,325.53 L58.92,325.46 L59.39,325.56 L59.87,325.64 L60.35,325.63 L60.82,325.95 L61.30,325.62 L61.77,325.77 L62.25,325.54 L62.73,325.66 L63.20,325.43 L63.68,325.59 L64.16,325.43 L64.63,325.93 L65.11,325.80 L65.58,325.55 L66.06,325.75 L66.54,326.07 L67.01,325.49 L67.49,325.99 L67.96,325.72 L68.44,325.76 L68.92,326.00 L69.39,325.69 L69.87,325.77 L70.34,325.89 L70.82,326.10 L71.30,325.65 L71.77,325.99 L72.25,325.91 L72.72,325.86 L73.20,325.69 L73.68,325.65 L74.15,325.45 L74.63,325.50 L75.10,325.46 L75.58,325.93 L76.06,325.59 L76.53,325.52 L77.01,325.47 L77.48,326.00 L77.96,326.02 L78.44,325.87 L78.91,325.60 L79.39,325.57 L79.87,325.61 L80.34,325.72 L80.82,325.51 L81.29,325.71 L81.77,325.59 L82.25,326.07 L82.72,326.08 L83.20,325.78 L83.67,325.57 L84.15,326.07 L84.63,325.61 L85.10,325.65 L85.58,325.40 L86.05,325.66 L86.53,325.73 L87.01,325.75 L87.48,325.53 L87.96,325.75 L88.43,325.40 L88.91,325.58 L89.39,325.45 L89.86,325.67 L90.34,325.42 L90.81,325.40 L91.29,325.60 L91.77,325.55 L92.24,325.80 L92.72,325.76 L93.19,325.91 L93.67,325.84 L94.15,325.88 L94.62,326.00 L95.10,325.65 L95.58,325.61 L96.05,326.07 L96.53,325.48 L97.00,325.88 L97.48,325.82 L97.96,325.40 L98.43,325.96 L98.91,326.00 L99.38,325.81 L99.86,325.88 L100.34,325.94 L100.81,325.46 L101.29,325.73 L101.76,325.72 L102.24,325.95 L102.72,325.92 L103.19,325.94 L103.67,325.77 L104.14,325.98 L104.62,325.83 L105.10,325.84 L105.57,325.51 L106.05,325.37 L106.52,325.44 L107.00,325.60 L107.48,325.42 L107.95,325.93 L108.43,325.73 L108.90,325.78 L109.38,325.77 L109.86,325.81 L110.33,325.67 L110.81,325.33 L111.29,325.88 L111.76,325.85 L112.24,325.67 L112.71,325.69 L113.19,325.78 L113.67,325.36 L114.14,325.83 L114.62,325.48 L115.09,325.36 L115.57,325.49 L116.05,325.81 L116.52,325.44 L117.00,325.81 L117.47,325.97 L117.95,325.63 L118.43,325.55 L118.90,325.61 L119.38,325.75 L119.85,325.80 L120.33,325.70 L120.81,325.71 L121.28,325.31 L121.76,325.35 L122.23,325.42 L122.71,325.76 L123.19,325.45 L123.66,325.63 L124.14,325.23 L124.61,325.26 L125.09,325.40 L125.57,325.67 L126.04,325.68 L126.52,325.66 L127.00,325.39 L127.47,325.54 L127.95,325.49 L128.42,325.49 L128.90,325.23 L129.38,325.77 L129.85,325.27 L130.33,325.81 L130.80,325.77 L131.28,325.11 L131.76,325.41 L132.23,325.65 L132.71,325.74 L133.18,325.36 L133.66,325.22 L134.14,325.17 L134.61,325.67 L135.09,325.14 L135.56,325.38 L136.04,325.05 L136.52,325.30 L136.99,325.58 L137.47,324.98 L137.94,325.44 L138.42,325.20 L138.90,325.44 L139.37,325.28 L139.85,324.92 L140.32,325.36 L140.80,325.04 L141.28,324.68 L141.75,324.62 L142.23,324.92 L142.71,324.85 L143.18,324.70 L143.66,324.53 L144.13,324.62 L144.61,324.54 L145.09,324.84 L145.56,324.18 L146.04,324.63 L146.51,324.60 L146.99,324.01 L147.47,324.47 L147.94,324.21 L148.42,324.22 L148.89,323.66 L149.37,323.56 L149.85,323.41 L150.32,323.65 L150.80,323.16 L151.27,322.77 L151.75,322.56 L152.23,322.17 L152.70,321.68 L153.18,321.35 L153.65,321.44 L154.13,320.57 L154.61,320.46 L155.08,319.33 L155.56,318.58 L156.03,317.83 L156.51,316.48 L156.99,315.20 L157.46,313.77 L157.94,311.23 L158.42,307.66 L158.89,302.46 L159.37,295.64 L159.84,287.81 L160.32,283.39 L160.80,287.06 L161.27,294.48 L161.75,302.31 L162.22,307.51 L162.70,311.47 L163.18,314.03 L163.65,315.70 L164.13,316.98 L164.60,318.72 L165.08,319.07 L165.56,320.05 L166.03,320.58 L166.51,321.07 L166.98,321.83 L167.46,322.38 L167.94,322.21 L168.41,322.78 L168.89,322.79 L169.36,323.20 L169.84,323.29 L170.32,323.32 L170.79,323.47 L171.27,323.65 L171.74,324.27 L172.22,324.11 L172.70,324.02 L173.17,324.60 L173.65,324.75 L174.13,324.45 L174.60,324.31 L175.08,324.42 L175.55,324.41 L176.03,324.64 L176.51,324.52 L176.98,324.68 L177.46,324.74 L177.93,325.00 L178.41,325.26 L178.89,325.20 L179.36,325.00 L179.84,325.04 L180.31,325.14 L180.79,325.07 L181.27,325.07 L181.74,324.90 L182.22,325.08 L182.69,325.58 L183.17,325.01 L183.65,325.30 L184.12,325.40 L184.60,325.59 L185.07,325.15 L185.55,325.20 L186.03,325.20 L186.50,325.32 L186.98,325.37 L187.45,325.74 L187.93,325.68 L188.41,325.71 L188.88,325.12 L189.36,325.14 L189.84,325.62 L190.31,325.76 L190.79,325.48 L191.26,325.57 L191.74,325.16 L192.22,325.45 L192.69,325.83 L193.17,325.76 L193.64,325.79 L194.12,325.88 L194.60,325.38 L195.07,325.29 L195.55,325.33 L196.02,325.59 L196.50,325.71" fill="none" stroke="#3a80e8" stroke-width="1.0"/>
<path d="M39.40,372.53 L39.88,372.40 L40.35,372.35 L40.83,372.42 L41.30,372.24 L41.78,372.29 L42.26,371.99 L42.73,372.43 L43.21,372.10 L43.68,372.51 L44.16,372.35 L44.64,372.14 L45.11,372.04 L45.59,372.11 L46.06,372.34 L46.54,372.38 L47.02,372.03 L47.49,372.00 L47.97,372.27 L48.45,372.31 L48.92,372.19 L49.40,372.09 L49.87,372.32 L50.35,371.96 L50.83,372.14 L51.30,372.23 L51.78,372.53 L52.25,372.34 L52.73,372.49 L53.21,372.24 L53.68,372.10 L54.16,372.10 L54.63,372.53 L55.11,372.38 L55.59,372.14 L56.06,371.97 L56.54,372.25 L57.01,372.36 L57.49,372.20 L57.97,372.11 L58.44,372.35 L58.92,372.51 L59.39,372.09 L59.87,371.97 L60.35,372.15 L60.82,372.20 L61.30,372.36 L61.77,372.07 L62.25,372.43 L62.73,372.39 L63.20,372.25 L63.68,372.07 L64.16,372.53 L64.63,372.13 L65.11,372.44 L65.58,372.08 L66.06,372.08 L66.54,372.40 L67.01,372.12 L67.49,372.51 L67.96,372.24 L68.44,372.05 L68.92,372.07 L69.39,372.19 L69.87,372.34 L70.34,372.51 L70.82,372.02 L71.30,372.17 L71.77,372.06 L72.25,372.52 L72.72,372.02 L73.20,371.96 L73.68,371.97 L74.15,372.17 L74.63,372.47 L75.10,372.46 L75.58,372.37 L76.06,372.53 L76.53,372.49 L77.01,372.12 L77.48,372.04 L77.96,372.49 L78.44,372.37 L78.91,371.94 L79.39,372.32 L79.87,372.15 L80.34,372.14 L80.82,372.12 L81.29,372.02 L81.77,371.92 L82.25,372.08 L82.72,372.13 L83.20,372.49 L83.67,371.99 L84.15,372.49 L84.63,372.03 L85.10,372.12 L85.58,372.40 L86.05,372.40 L86.53,372.16 L87.01,371.93 L87.48,372.19 L87.96,372.13 L88.43,372.45 L88.91,372.01 L89.39,372.12 L89.86,372.43 L90.34,371.91 L90.81,372.14 L91.29,372.38 L91.77,372.35 L92.24,371.91 L92.72,371.91 L93.19,371.92 L93.67,372.44 L94.15,372.04 L94.62,372.33 L95.10,372.42 L95.58,372.08 L96.05,372.04 L96.53,372.45 L97.00,372.24 L97.48,372.03 L97.96,372.30 L98.43,372.05 L98.91,372.03 L99.38,371.86 L99.86,372.31 L100.34,372.41 L100.81,372.23 L101.29,372.42 L101.76,371.86 L102.24,371.99 L102.72,372.13 L103.19,372.42 L103.67,372.41 L104.14,372.07 L104.62,371.98 L105.10,372.09 L105.57,372.12 L106.05,372.38 L106.52,371.93 L107.00,372.30 L107.48,372.26 L107.95,372.30 L108.43,372.27 L108.90,372.17 L109.38,372.00 L109.86,371.99 L110.33,372.01 L110.81,372.26 L111.29,371.83 L111.76,371.90 L112.24,372.23 L112.71,371.92 L113.19,371.80 L113.67,371.78 L114.14,372.09 L114.62,371.95 L115.09,372.33 L115.57,372.27 L116.05,372.33 L116.52,371.89 L117.00,371.77 L117.47,371.77 L117.95,372.01 L118.43,372.13 L118.90,371.96 L119.38,371.83 L119.85,371.93 L120.33,372.04 L120.81,372.07 L121.28,372.10 L121.76,372.16 L122.23,372.04 L122.71,371.70 L123.19,372.12 L123.66,371.79 L124.14,371.94 L124.61,371.81 L125.09,372.02 L125.57,371.68 L126.04,371.70 L126.52,371.69 L127.00,371.62 L127.47,372.04 L127.95,371.84 L128.42,371.68 L128.90,371.70 L129.38,372.04 L129.85,371.74 L130.33,371.55 L130.80,371.88 L131.28,371.77 L131.76,371.95 L132.23,371.39 L132.71,371.59 L133.18,371.77 L133.66,371.76 L134.14,371.78 L134.61,371.22 L135.09,371.35 L135.56,371.21 L136.04,371.22 L136.52,371.65 L136.99,371.38 L137.47,371.55 L137.94,371.17 L138.42,371.42 L138.90,371.12 L139.37,370.95 L139.85,371.21 L140.32,371.25 L140.80,370.68 L141.28,370.90 L141.75,370.84 L142.23,370.52 L142.71,370.53 L143.18,370.30 L143.66,370.24 L144.13,370.16 L144.61,370.25 L145.09,370.15 L145.56,369.74 L146.04,369.48 L146.51,369.50 L146.99,369.53 L147.47,369.03 L147.94,368.89 L148.42,368.58 L148.89,368.67 L149.37,368.22 L149.85,367.60 L150.32,367.25 L150.80,367.02 L151.27,366.64 L151.75,366.17 L152.23,365.25 L152.70,364.61 L153.18,364.15 L153.65,363.08 L154.13,361.96 L154.61,360.74 L155.08,359.66 L155.56,357.50 L156.03,355.48 L156.51,352.65 L156.99,349.31 L157.46,345.43 L157.94,340.65 L158.42,335.26 L158.89,331.31 L159.37,330.55 L159.84,332.50 L160.32,336.95 L160.80,342.69 L161.27,347.19 L161.75,351.42 L162.22,354.38 L162.70,357.22 L163.18,359.01 L163.65,360.49 L164.13,361.77 L164.60,363.22 L165.08,364.23 L165.56,365.21 L166.03,365.41 L166.51,366.34 L166.98,366.72 L167.46,367.26 L167.94,367.46 L168.41,367.90 L168.89,368.37 L169.36,368.90 L169.84,368.67 L170.32,369.13 L170.79,369.53 L171.27,369.82 L171.74,369.53 L172.22,369.65 L172.70,370.28 L173.17,370.44 L173.65,370.26 L174.13,370.12 L174.60,370.74 L175.08,370.52 L175.55,370.91 L176.03,370.82 L176.51,371.02 L176.98,370.69 L177.46,371.14 L177.93,370.86 L178.41,371.03 L178.89,371.34 L179.36,371.38 L179.84,371.04 L180.31,371.11 L180.79,371.26 L181.27,371.37 L181.74,371.33 L182.22,371.20 L182.69,371.31 L183.17,371.63 L183.65,371.76 L184.12,371.28 L184.60,371.61 L185.07,371.76 L185.55,371.35 L186.03,371.85 L186.50,371.44 L186.98,371.75 L187.45,371.74 L187.93,371.80 L188.41,371.63 L188.88,371.72 L189.36,371.83 L189.84,371.75 L190.31,371.90 L190.79,371.79 L191.26,371.80 L191.74,371.56 L192.22,371.93 L192.69,371.87 L193.17,371.73 L193.64,372.06 L194.12,372.08 L194.60,371.89 L195.07,371.74 L195.55,371.92 L196.02,371.71 L196.50,371.73" fill="none" stroke="#f04848" stroke-width="1.0"/>
<path d="M39.40,418.90 L39.88,418.73 L40.36,418.91 L40.84,418.94 L41.32,418.71 L41.80,419.00 L42.28,418.73 L42.76,419.05 L43.24,419.07 L43.72,418.94 L44.20,418.71 L44.68,418.93 L45.16,418.87 L45.64,419.16 L46.12,418.75 L46.60,419.11 L47.08,419.18 L47.56,419.04 L48.04,419.08 L48.52,418.77 L49.00,419.17 L49.48,418.92 L49.96,419.15 L50.44,419.13 L50.92,418.76 L51.40,419.07 L51.88,419.14 L52.36,418.70 L52.84,418.84 L53.32,419.05 L53.80,418.75 L54.28,419.11 L54.76,418.80 L55.24,419.07 L55.72,418.73 L56.20,418.91 L56.68,419.12 L57.16,418.76 L57.64,418.78 L58.12,418.90 L58.60,418.80 L59.08,418.65 L59.56,418.71 L60.04,418.69 L60.52,419.07 L61.00,418.93 L61.48,419.02 L61.96,418.63 L62.44,418.92 L62.92,418.55 L63.40,418.73 L63.88,418.75 L64.36,418.57 L64.84,418.78 L65.32,418.56 L65.80,418.52 L66.28,418.61 L66.76,418.15 L67.24,418.52 L67.72,418.27 L68.20,418.07 L68.68,418.19 L69.16,417.84 L69.64,418.12 L70.12,417.83 L70.60,417.64 L71.08,417.76 L71.56,417.53 L72.04,417.32 L72.52,417.55 L73.00,417.15 L73.48,417.49 L73.96,417.18 L74.44,417.35 L74.92,417.51 L75.40,417.32 L75.88,417.37 L76.36,417.22 L76.84,417.10 L77.32,417.17 L77.80,417.28 L78.28,417.58 L78.76,417.55 L79.24,417.67 L79.72,417.94 L80.20,417.64 L80.68,417.77 L81.16,418.06 L81.64,417.82 L82.12,417.89 L82.60,418.14 L83.08,418.09 L83.56,418.28 L84.04,418.27 L84.52,418.51 L85.00,418.56 L85.48,418.41 L85.96,418.66 L86.44,418.62 L86.92,418.48 L87.40,418.91 L87.88,418.58 L88.36,418.55 L88.84,418.54 L89.32,418.82 L89.80,418.95 L90.28,418.91 L90.76,418.73 L91.24,418.66 L91.72,418.54 L92.20,418.86 L92.68,418.82 L93.16,418.71 L93.64,418.86 L94.12,418.75 L94.60,419.00 L95.08,418.89 L95.56,418.65 L96.04,418.97 L96.52,418.54 L97.00,418.78 L97.48,418.71 L97.96,418.63 L98.44,418.53 L98.92,418.89 L99.40,418.50 L99.88,418.77 L100.36,418.96 L100.84,418.55 L101.32,418.58 L101.80,418.78 L102.28,418.72 L102.76,418.79 L103.24,418.87 L103.72,418.54 L104.20,418.60 L104.68,418.59 L105.16,418.46 L105.64,418.88 L106.12,418.82 L106.60,418.78 L107.08,418.42 L107.56,418.83 L108.04,418.78 L108.52,418.63 L109.00,418.76 L109.48,418.61 L109.96,418.49 L110.44,418.42 L110.92,418.48 L111.40,418.37 L111.88,418.51 L112.36,418.71 L112.84,418.67 L113.32,418.74 L113.80,418.67 L114.28,418.43 L114.76,418.57 L115.24,418.50 L115.72,418.66 L116.20,418.52 L116.68,418.38 L117.16,418.56 L117.64,418.71 L118.12,418.32 L118.60,418.64 L119.08,418.19 L119.56,418.30 L120.04,418.28 L120.52,418.52 L121.00,418.60 L121.48,418.49 L121.96,418.26 L122.44,418.52 L122.92,418.23 L123.40,418.16 L123.88,418.48 L124.36,418.32 L124.84,418.33 L125.32,418.30 L125.80,418.43 L126.28,418.15 L126.76,418.32 L127.24,418.22 L127.72,418.27 L128.20,418.04 L128.68,418.15 L129.16,418.04 L129.64,417.88 L130.12,417.80 L130.60,417.97 L131.08,417.66 L131.56,418.04 L132.04,417.62 L132.52,417.52 L133.00,417.51 L133.48,417.88 L133.96,417.54 L134.44,417.39 L134.92,417.28 L135.40,417.22 L135.88,417.49 L136.36,417.40 L136.84,417.36 L137.32,417.31 L137.80,416.90 L138.28,417.08 L138.76,416.88 L139.24,417.02 L139.72,416.92 L140.20,416.86 L140.68,416.33 L141.16,416.62 L141.64,416.51 L142.12,416.39 L142.60,415.83 L143.08,415.72 L143.56,415.51 L144.04,415.29 L144.52,415.50 L145.00,415.26 L145.48,414.94 L145.96,414.79 L146.44,414.41 L146.92,413.94 L147.40,413.51 L147.88,413.15 L148.36,413.07 L148.84,412.34 L149.32,411.90 L149.80,411.38 L150.28,410.54 L150.76,409.94 L151.24,409.13 L151.72,408.39 L152.20,407.13 L152.68,405.83 L153.16,404.68 L153.64,402.75 L154.12,400.97 L154.60,398.64 L155.08,395.94 L155.56,393.64 L156.04,391.32 L156.52,389.60 L157.00,388.27 L157.48,388.26 L157.96,388.81 L158.44,389.71 L158.92,390.75 L159.40,389.35 L159.88,384.56 L160.36,381.19 L160.84,391.03 L161.32,398.61 L161.80,402.84 L162.28,405.35 L162.76,406.54 L163.24,408.06 L163.72,409.09 L164.20,410.10 L164.68,410.52 L165.16,411.31 L165.64,411.80 L166.12,412.54 L166.60,412.70 L167.08,413.44 L167.56,413.48 L168.04,413.77 L168.52,414.32 L169.00,414.49 L169.48,414.55 L169.96,415.05 L170.44,414.99 L170.92,415.54 L171.40,415.68 L171.88,415.90 L172.36,415.98 L172.84,415.99 L173.32,416.16 L173.80,416.28 L174.28,416.65 L174.76,416.37 L175.24,416.87 L175.72,416.54 L176.20,416.73 L176.68,416.84 L177.16,417.25 L177.64,417.13 L178.12,417.14 L178.60,417.46 L179.08,417.20 L179.56,417.38 L180.04,417.47 L180.52,417.64 L181.00,417.69 L181.48,417.69 L181.96,417.59 L182.44,417.62 L182.92,417.58 L183.40,417.97 L183.88,417.92 L184.36,417.99 L184.84,417.74 L185.32,417.91 L185.80,418.11 L186.28,418.05 L186.76,417.85 L187.24,418.05 L187.72,418.29 L188.20,417.99 L188.68,417.99 L189.16,418.07 L189.64,418.29 L190.12,418.39 L190.60,418.06 L191.08,418.08 L191.56,418.15 L192.04,418.21 L192.52,418.32 L193.00,418.16 L193.48,418.26 L193.96,418.21 L194.44,418.62 L194.92,418.51 L195.40,418.21 L195.88,418.65 L196.36,418.24 L196.84,418.39 L197.32,418.70 L197.80,418.62" fill="none" stroke="#444" stroke-width="1.1"/>
<text x="161.5" y="282.6" font-size="9.6" fill="#d060d8" text-anchor="middle" font-weight="normal" textLength="13.5" lengthAdjust="spacingAndGlyphs" >8.2</text>
<text x="135.7" y="347.6" font-size="9.6" fill="#d060d8" text-anchor="start" font-weight="normal" textLength="18.0" lengthAdjust="spacingAndGlyphs" >10.2</text>
<path d="M39.4,424.5 L198.2,424.5" stroke="#111" stroke-width="1.3"/>
<path d="M39.4,424.5 L39.4,427.6" stroke="#111" stroke-width="0.9"/>
<text x="39.4" y="437.0" font-size="9.3" fill="#222" text-anchor="middle" font-weight="normal" >100</text>
<path d="M52.6,424.5 L52.6,426.4" stroke="#111" stroke-width="0.7"/>
<path d="M65.8,424.5 L65.8,427.6" stroke="#111" stroke-width="0.9"/>
<text x="65.8" y="437.0" font-size="9.3" fill="#222" text-anchor="middle" font-weight="normal" >80</text>
<path d="M79.0,424.5 L79.0,426.4" stroke="#111" stroke-width="0.7"/>
<path d="M92.1,424.5 L92.1,427.6" stroke="#111" stroke-width="0.9"/>
<text x="92.1" y="437.0" font-size="9.3" fill="#222" text-anchor="middle" font-weight="normal" >60</text>
<path d="M105.3,424.5 L105.3,426.4" stroke="#111" stroke-width="0.7"/>
<path d="M118.4,424.5 L118.4,427.6" stroke="#111" stroke-width="0.9"/>
<text x="118.4" y="437.0" font-size="9.3" fill="#222" text-anchor="middle" font-weight="normal" >40</text>
<path d="M131.6,424.5 L131.6,426.4" stroke="#111" stroke-width="0.7"/>
<path d="M144.8,424.5 L144.8,427.6" stroke="#111" stroke-width="0.9"/>
<text x="144.8" y="437.0" font-size="9.3" fill="#222" text-anchor="middle" font-weight="normal" >20</text>
<path d="M158.0,424.5 L158.0,426.4" stroke="#111" stroke-width="0.7"/>
<path d="M171.2,424.5 L171.2,427.6" stroke="#111" stroke-width="0.9"/>
<text x="171.2" y="437.0" font-size="9.3" fill="#222" text-anchor="middle" font-weight="normal" >0</text>
<path d="M184.3,424.5 L184.3,426.4" stroke="#111" stroke-width="0.7"/>
<path d="M197.5,424.5 L197.5,427.6" stroke="#111" stroke-width="0.9"/>
<text x="197.5" y="437.0" font-size="9.3" fill="#222" text-anchor="middle" font-weight="normal" >-20</text>
<text x="77.6" y="445.6" font-size="9.0" fill="#222" text-anchor="start" font-weight="normal" textLength="82.2" lengthAdjust="spacingAndGlyphs" >Chemical shift (ppm)</text>
<text x="257.8" y="279.8" font-size="9.6" fill="#2020e8" text-anchor="start" font-weight="normal" textLength="37.5" lengthAdjust="spacingAndGlyphs" ><tspan font-size="5.6" dy="-3.2">1</tspan><tspan dy="3.2"> H NMR</tspan></text>
<text x="230.5" y="301.2" font-size="9.4" fill="#222" text-anchor="start" font-weight="normal" textLength="68.0" lengthAdjust="spacingAndGlyphs" >SSR-SrTiO<tspan font-size="6" dy="1.8">3</tspan><tspan dy="-1.8">: Al</tspan></text>
<text x="249.0" y="312.7" font-size="9.4" fill="#222" text-anchor="start" font-weight="normal" textLength="31.0" lengthAdjust="spacingAndGlyphs" >400 °C</text>
<text x="228.8" y="346.3" font-size="9.4" fill="#222" text-anchor="start" font-weight="normal" textLength="68.0" lengthAdjust="spacingAndGlyphs" >SSR-SrTiO<tspan font-size="6" dy="1.8">3</tspan><tspan dy="-1.8">: Al</tspan></text>
<text x="251.5" y="357.8" font-size="9.4" fill="#222" text-anchor="start" font-weight="normal" textLength="22.3" lengthAdjust="spacingAndGlyphs" >aged</text>
<text x="228.4" y="400.6" font-size="9.4" fill="#222" text-anchor="start" font-weight="normal" textLength="68.0" lengthAdjust="spacingAndGlyphs" >SSR-SrTiO<tspan font-size="6" dy="1.8">3</tspan><tspan dy="-1.8">: Al</tspan></text>
<text x="251.5" y="413.2" font-size="9.4" fill="#222" text-anchor="start" font-weight="normal" textLength="22.5" lengthAdjust="spacingAndGlyphs" >fresh</text>
<path d="M304.0,315.6 L304.0,367" stroke="#20a85c" stroke-width="1.4" stroke-dasharray="3.6,1.7"/>
<path d="M324.4,314 L324.4,379.5" stroke="#20a85c" stroke-width="1.4" stroke-dasharray="3.6,1.7"/>
<path d="M338.1,317.7 L338.1,405.5" stroke="#20a85c" stroke-width="1.4" stroke-dasharray="3.6,1.7"/>
<path d="M347.5,305 L347.5,405.5" stroke="#20a85c" stroke-width="1.4" stroke-dasharray="3.6,1.7"/>
<path d="M351.2,294.6 L351.2,405.5" stroke="#20a85c" stroke-width="1.4" stroke-dasharray="3.6,1.7"/>
<text x="301.8" y="313.8" font-size="9.8" fill="#20a85c" text-anchor="middle" font-weight="normal" textLength="14.0" lengthAdjust="spacingAndGlyphs" >7.9</text>
<text x="318.2" y="312.2" font-size="9.8" fill="#20a85c" text-anchor="middle" font-weight="normal" textLength="14.0" lengthAdjust="spacingAndGlyphs" >4.7</text>
<text x="335.7" y="311.2" font-size="9.8" fill="#20a85c" text-anchor="middle" font-weight="normal" textLength="14.0" lengthAdjust="spacingAndGlyphs" >2.4</text>
<text x="336.4" y="298.2" font-size="9.8" fill="#20a85c" text-anchor="middle" font-weight="normal" textLength="19.5" lengthAdjust="spacingAndGlyphs" >0.96</text>
<text x="356.7" y="281.4" font-size="9.8" fill="#20a85c" text-anchor="middle" font-weight="normal" textLength="19.5" lengthAdjust="spacingAndGlyphs" >0.55</text>
<path d="M258.80,322.85 L259.30,322.70 L259.80,322.59 L260.29,322.77 L260.79,322.53 L261.29,322.56 L261.79,322.63 L262.29,322.47 L262.79,322.62 L263.28,322.78 L263.78,322.72 L264.28,322.63 L264.78,322.67 L265.28,322.59 L265.77,322.43 L266.27,322.63 L266.77,322.53 L267.27,322.66 L267.77,322.72 L268.26,322.50 L268.76,322.55 L269.26,322.61 L269.76,322.46 L270.26,322.36 L270.75,322.56 L271.25,322.62 L271.75,322.56 L272.25,322.51 L272.75,322.56 L273.25,322.47 L273.74,322.44 L274.24,322.34 L274.74,322.26 L275.24,322.38 L275.74,322.13 L276.23,322.26 L276.73,322.40 L277.23,322.36 L277.73,322.30 L278.23,322.12 L278.73,322.18 L279.22,322.17 L279.72,322.23 L280.22,322.11 L280.72,322.21 L281.22,322.30 L281.71,321.96 L282.21,322.14 L282.71,322.18 L283.21,321.99 L283.71,322.01 L284.20,322.20 L284.70,321.77 L285.20,321.97 L285.70,321.78 L286.20,322.03 L286.69,322.08 L287.19,321.87 L287.69,321.66 L288.19,321.85 L288.69,321.81 L289.19,321.86 L289.68,321.74 L290.18,321.78 L290.68,321.83 L291.18,321.67 L291.68,321.60 L292.17,321.81 L292.67,321.46 L293.17,321.64 L293.67,321.48 L294.17,321.62 L294.67,321.31 L295.16,321.66 L295.66,321.35 L296.16,321.19 L296.66,321.26 L297.16,321.28 L297.65,321.08 L298.15,321.23 L298.65,321.20 L299.15,321.29 L299.65,321.11 L300.14,321.04 L300.64,320.99 L301.14,321.18 L301.64,321.24 L302.14,321.02 L302.63,320.85 L303.13,321.08 L303.63,320.86 L304.13,320.75 L304.63,320.68 L305.13,320.93 L305.62,320.91 L306.12,320.80 L306.62,320.69 L307.12,320.70 L307.62,320.51 L308.11,320.80 L308.61,320.50 L309.11,320.59 L309.61,320.63 L310.11,320.59 L310.61,320.41 L311.10,320.29 L311.60,320.37 L312.10,320.15 L312.60,320.42 L313.10,320.17 L313.59,320.36 L314.09,320.06 L314.59,320.08 L315.09,319.99 L315.59,320.02 L316.08,319.88 L316.58,319.77 L317.08,320.04 L317.58,319.81 L318.08,319.76 L318.57,319.75 L319.07,319.79 L319.57,319.73 L320.07,319.78 L320.57,319.75 L321.07,319.58 L321.56,319.79 L322.06,319.72 L322.56,319.33 L323.06,319.63 L323.56,319.62 L324.05,319.52 L324.55,319.19 L325.05,319.45 L325.55,319.32 L326.05,318.99 L326.55,318.94 L327.04,319.30 L327.54,319.11 L328.04,318.88 L328.54,318.75 L329.04,318.70 L329.53,318.67 L330.03,318.84 L330.53,318.57 L331.03,318.41 L331.53,318.65 L332.02,318.51 L332.52,318.14 L333.02,318.35 L333.52,318.11 L334.02,318.07 L334.51,317.90 L335.01,317.86 L335.51,317.67 L336.01,317.54 L336.51,317.10 L337.01,317.15 L337.50,316.91 L338.00,316.81 L338.50,316.49 L339.00,316.49 L339.50,316.14 L339.99,315.80 L340.49,315.57 L340.99,315.32 L341.49,315.25 L341.99,314.83 L342.49,314.78 L342.98,314.39 L343.48,314.28 L343.98,313.99 L344.48,313.68 L344.98,313.44 L345.47,312.62 L345.97,312.47 L346.47,311.73 L346.97,311.19 L347.47,310.76 L347.96,310.61 L348.46,310.49 L348.96,311.09 L349.46,312.40 L349.96,313.31 L350.45,314.86 L350.95,316.03 L351.45,316.78 L351.95,317.88 L352.45,318.61 L352.95,319.29 L353.44,319.50 L353.94,320.18 L354.44,320.30 L354.94,320.57 L355.44,320.99 L355.93,320.82 L356.43,321.30 L356.93,321.41 L357.43,321.43 L357.93,321.78 L358.43,321.68 L358.92,321.83 L359.42,321.94 L359.92,322.14 L360.42,321.97 L360.92,322.14 L361.41,322.20 L361.91,322.32 L362.41,322.50 L362.91,322.32 L363.41,322.60 L363.90,322.46 L364.40,322.55 L364.90,322.49 L365.40,322.63 L365.90,322.88 L366.39,322.77 L366.89,322.86 L367.39,322.69 L367.89,322.72 L368.39,322.74 L368.89,322.89 L369.38,322.94 L369.88,323.03 L370.38,322.72 L370.88,323.05 L371.38,323.14 L371.87,323.01 L372.37,322.81 L372.87,322.94 L373.37,322.83 L373.87,322.93 L374.37,323.26 L374.86,323.14 L375.36,323.18 L375.86,323.25 L376.36,323.32 L376.86,323.20 L377.35,323.21 L377.85,323.23 L378.35,323.27 L378.85,323.24 L379.35,323.29 L379.84,323.09 L380.34,323.30 L380.84,323.22 L381.34,323.36 L381.84,323.08 L382.34,323.13 L382.83,323.07 L383.33,323.40 L383.83,323.47 L384.33,323.37 L384.83,323.25 L385.32,323.45 L385.82,323.44 L386.32,323.35 L386.82,323.22 L387.32,323.25 L387.81,323.31 L388.31,323.27 L388.81,323.32 L389.31,323.42 L389.81,323.56 L390.30,323.17 L390.80,323.40 L391.30,323.18 L391.80,323.22 L392.30,323.52 L392.80,323.43 L393.29,323.58 L393.79,323.38 L394.29,323.19 L394.79,323.36 L395.29,323.45 L395.78,323.61 L396.28,323.63 L396.78,323.41 L397.28,323.39 L397.78,323.25 L398.27,323.50 L398.77,323.31 L399.27,323.29 L399.77,323.23 L400.27,323.23 L400.77,323.53 L401.26,323.28 L401.76,323.66 L402.26,323.27 L402.76,323.62 L403.26,323.30 L403.75,323.25 L404.25,323.56 L404.75,323.35 L405.25,323.57 L405.75,323.33 L406.25,323.28 L406.74,323.60 L407.24,323.57 L407.74,323.64 L408.24,323.58 L408.74,323.30 L409.23,323.54 L409.73,323.58 L410.23,323.47 L410.73,323.68 L411.23,323.38 L411.72,323.70 L412.22,323.59 L412.72,323.28 L413.22,323.28 L413.72,323.57 L414.22,323.64 L414.71,323.32 L415.21,323.42 L415.71,323.61 L416.21,323.36 L416.71,323.67 L417.20,323.50 L417.70,323.32 L418.20,323.45" fill="none" stroke="#3a80e8" stroke-width="1.0"/>
<path d="M258.80,373.36 L259.30,373.29 L259.80,373.41 L260.29,373.14 L260.79,373.46 L261.29,373.24 L261.79,373.37 L262.29,373.36 L262.79,373.25 L263.28,373.23 L263.78,373.43 L264.28,373.50 L264.78,373.42 L265.28,373.30 L265.77,373.16 L266.27,373.04 L266.77,373.49 L267.27,373.35 L267.77,373.41 L268.26,373.15 L268.76,373.28 L269.26,373.46 L269.76,373.38 L270.26,373.26 L270.75,373.11 L271.25,373.16 L271.75,373.39 L272.25,373.12 L272.75,373.27 L273.25,373.22 L273.74,373.36 L274.24,373.31 L274.74,373.04 L275.24,372.89 L275.74,373.01 L276.23,373.08 L276.73,373.15 L277.23,373.26 L277.73,373.29 L278.23,372.85 L278.73,373.24 L279.22,373.22 L279.72,373.24 L280.22,373.08 L280.72,372.92 L281.22,373.19 L281.71,373.16 L282.21,373.09 L282.71,373.19 L283.21,372.89 L283.71,372.75 L284.20,372.97 L284.70,373.07 L285.20,372.76 L285.70,373.02 L286.20,373.09 L286.69,372.73 L287.19,372.89 L287.69,372.91 L288.19,372.78 L288.69,372.64 L289.19,372.64 L289.68,372.86 L290.18,372.86 L290.68,372.67 L291.18,372.46 L291.68,372.79 L292.17,372.75 L292.67,372.45 L293.17,372.59 L293.67,372.71 L294.17,372.67 L294.67,372.45 L295.16,372.39 L295.66,372.40 L296.16,372.15 L296.66,372.10 L297.16,372.04 L297.65,372.24 L298.15,372.00 L298.65,372.02 L299.15,371.85 L299.65,371.80 L300.14,371.50 L300.64,371.31 L301.14,371.64 L301.64,371.16 L302.14,370.84 L302.63,370.91 L303.13,370.82 L303.63,370.37 L304.13,370.52 L304.63,370.39 L305.13,370.52 L305.62,370.34 L306.12,370.43 L306.62,370.98 L307.12,370.97 L307.62,370.82 L308.11,370.87 L308.61,370.72 L309.11,370.96 L309.61,370.75 L310.11,370.97 L310.61,370.83 L311.10,370.80 L311.60,370.80 L312.10,370.37 L312.60,370.18 L313.10,370.18 L313.59,370.08 L314.09,369.93 L314.59,369.82 L315.09,369.97 L315.59,370.02 L316.08,369.70 L316.58,369.83 L317.08,369.70 L317.58,369.16 L318.08,369.32 L318.57,369.10 L319.07,368.85 L319.57,369.16 L320.07,368.70 L320.57,368.75 L321.07,368.69 L321.56,368.75 L322.06,368.52 L322.56,368.30 L323.06,368.25 L323.56,368.04 L324.05,368.39 L324.55,368.36 L325.05,367.93 L325.55,367.81 L326.05,367.90 L326.55,367.93 L327.04,368.20 L327.54,368.20 L328.04,368.17 L328.54,367.79 L329.04,368.18 L329.53,368.16 L330.03,368.14 L330.53,368.33 L331.03,367.88 L331.53,367.93 L332.02,368.24 L332.52,368.33 L333.02,368.18 L333.52,367.95 L334.02,368.04 L334.51,368.03 L335.01,367.58 L335.51,367.52 L336.01,367.25 L336.51,366.88 L337.01,366.68 L337.50,366.12 L338.00,365.82 L338.50,365.61 L339.00,365.94 L339.50,365.84 L339.99,366.45 L340.49,366.39 L340.99,366.43 L341.49,366.89 L341.99,366.46 L342.49,366.63 L342.98,366.30 L343.48,365.90 L343.98,364.95 L344.48,364.34 L344.98,363.17 L345.47,362.28 L345.97,360.59 L346.47,358.52 L346.97,356.35 L347.47,354.52 L347.96,353.88 L348.46,354.04 L348.96,355.39 L349.46,356.75 L349.96,358.17 L350.45,359.04 L350.95,360.17 L351.45,361.29 L351.95,362.75 L352.45,364.79 L352.95,365.87 L353.44,367.00 L353.94,367.68 L354.44,368.37 L354.94,369.15 L355.44,369.31 L355.93,369.56 L356.43,370.01 L356.93,370.17 L357.43,370.67 L357.93,370.47 L358.43,371.07 L358.92,370.76 L359.42,371.31 L359.92,371.32 L360.42,371.20 L360.92,371.44 L361.41,371.44 L361.91,371.51 L362.41,371.57 L362.91,371.73 L363.41,372.11 L363.90,372.18 L364.40,372.21 L364.90,371.85 L365.40,372.00 L365.90,372.36 L366.39,371.99 L366.89,372.37 L367.39,372.19 L367.89,372.58 L368.39,372.14 L368.89,372.57 L369.38,372.37 L369.88,372.31 L370.38,372.27 L370.88,372.72 L371.38,372.59 L371.87,372.45 L372.37,372.60 L372.87,372.87 L373.37,372.55 L373.87,372.75 L374.37,372.55 L374.86,372.60 L375.36,372.91 L375.86,372.90 L376.36,372.67 L376.86,372.63 L377.35,372.65 L377.85,372.93 L378.35,372.89 L378.85,372.79 L379.35,372.77 L379.84,372.99 L380.34,373.05 L380.84,373.12 L381.34,373.02 L381.84,372.84 L382.34,372.79 L382.83,373.13 L383.33,372.98 L383.83,373.15 L384.33,372.83 L384.83,373.22 L385.32,372.99 L385.82,373.25 L386.32,373.28 L386.82,373.10 L387.32,372.87 L387.81,373.33 L388.31,373.12 L388.81,373.33 L389.31,373.03 L389.81,373.00 L390.30,373.33 L390.80,373.11 L391.30,373.01 L391.80,373.12 L392.30,373.24 L392.80,372.95 L393.29,373.22 L393.79,373.19 L394.29,373.23 L394.79,373.04 L395.29,373.34 L395.78,373.40 L396.28,373.43 L396.78,373.16 L397.28,373.36 L397.78,373.20 L398.27,373.39 L398.77,373.05 L399.27,373.46 L399.77,373.51 L400.27,373.28 L400.77,373.30 L401.26,373.31 L401.76,373.32 L402.26,373.06 L402.76,373.54 L403.26,373.17 L403.75,373.16 L404.25,373.12 L404.75,373.20 L405.25,373.49 L405.75,373.10 L406.25,373.13 L406.74,373.44 L407.24,373.19 L407.74,373.11 L408.24,373.40 L408.74,373.39 L409.23,373.37 L409.73,373.46 L410.23,373.16 L410.73,373.55 L411.23,373.48 L411.72,373.14 L412.22,373.19 L412.72,373.37 L413.22,373.38 L413.72,373.27 L414.22,373.20 L414.71,373.34 L415.21,373.21 L415.71,373.44 L416.21,373.58 L416.71,373.22 L417.20,373.44 L417.70,373.53 L418.20,373.24" fill="none" stroke="#f04848" stroke-width="1.0"/>
<path d="M258.80,421.77 L259.30,421.76 L259.80,421.75 L260.29,421.74 L260.79,421.73 L261.29,421.72 L261.79,421.71 L262.29,421.70 L262.79,421.69 L263.28,421.68 L263.78,421.67 L264.28,421.66 L264.78,421.64 L265.28,421.63 L265.77,421.62 L266.27,421.61 L266.77,421.59 L267.27,421.58 L267.77,421.57 L268.26,421.56 L268.76,421.54 L269.26,421.53 L269.76,421.51 L270.26,421.50 L270.75,421.48 L271.25,421.47 L271.75,421.45 L272.25,421.44 L272.75,421.42 L273.25,421.40 L273.74,421.39 L274.24,421.37 L274.74,421.35 L275.24,421.33 L275.74,421.31 L276.23,421.30 L276.73,421.28 L277.23,421.26 L277.73,421.24 L278.23,421.22 L278.73,421.19 L279.22,421.17 L279.72,421.15 L280.22,421.13 L280.72,421.10 L281.22,421.08 L281.71,421.05 L282.21,421.03 L282.71,421.00 L283.21,420.98 L283.71,420.95 L284.20,420.92 L284.70,420.89 L285.20,420.86 L285.70,420.83 L286.20,420.80 L286.69,420.77 L287.19,420.74 L287.69,420.70 L288.19,420.67 L288.69,420.63 L289.19,420.60 L289.68,420.56 L290.18,420.52 L290.68,420.48 L291.18,420.44 L291.68,420.40 L292.17,420.36 L292.67,420.31 L293.17,420.27 L293.67,420.22 L294.17,420.17 L294.67,420.12 L295.16,420.07 L295.66,420.02 L296.16,419.97 L296.66,419.91 L297.16,419.86 L297.65,419.80 L298.15,419.74 L298.65,419.68 L299.15,419.61 L299.65,419.55 L300.14,419.48 L300.64,419.41 L301.14,419.34 L301.64,419.26 L302.14,419.19 L302.63,419.11 L303.13,419.03 L303.63,418.94 L304.13,418.86 L304.63,418.77 L305.13,418.68 L305.62,418.58 L306.12,418.49 L306.62,418.39 L307.12,418.29 L307.62,418.18 L308.11,418.07 L308.61,417.96 L309.11,417.84 L309.61,417.73 L310.11,417.61 L310.61,417.48 L311.10,417.35 L311.60,417.22 L312.10,417.09 L312.60,416.95 L313.10,416.81 L313.59,416.66 L314.09,416.51 L314.59,416.36 L315.09,416.21 L315.59,416.05 L316.08,415.89 L316.58,415.73 L317.08,415.56 L317.58,415.40 L318.08,415.23 L318.57,415.06 L319.07,414.88 L319.57,414.71 L320.07,414.54 L320.57,414.36 L321.07,414.19 L321.56,414.02 L322.06,413.85 L322.56,413.68 L323.06,413.52 L323.56,413.36 L324.05,413.20 L324.55,413.05 L325.05,412.90 L325.55,412.77 L326.05,412.64 L326.55,412.51 L327.04,412.40 L327.54,412.30 L328.04,412.21 L328.54,412.12 L329.04,412.06 L329.53,412.00 L330.03,411.95 L330.53,411.92 L331.03,411.90 L331.53,411.90 L332.02,411.91 L332.52,411.93 L333.02,411.97 L333.52,412.02 L334.02,412.08 L334.51,412.15 L335.01,412.23 L335.51,412.33 L336.01,412.44 L336.51,412.55 L337.01,412.68 L337.50,412.81 L338.00,412.95 L338.50,413.10 L339.00,413.25 L339.50,413.41 L339.99,413.57 L340.49,413.74 L340.99,413.90 L341.49,414.07 L341.99,414.25 L342.49,414.42 L342.98,414.59 L343.48,414.77 L343.98,414.94 L344.48,415.11 L344.98,415.28 L345.47,415.45 L345.97,415.62 L346.47,415.78 L346.97,415.94 L347.47,416.10 L347.96,416.26 L348.46,416.41 L348.96,416.56 L349.46,416.71 L349.96,416.85 L350.45,416.99 L350.95,417.13 L351.45,417.26 L351.95,417.39 L352.45,417.52 L352.95,417.64 L353.44,417.76 L353.94,417.88 L354.44,418.00 L354.94,418.11 L355.44,418.21 L355.93,418.32 L356.43,418.42 L356.93,418.52 L357.43,418.61 L357.93,418.71 L358.43,418.80 L358.92,418.89 L359.42,418.97 L359.92,419.05 L360.42,419.13 L360.92,419.21 L361.41,419.29 L361.91,419.36 L362.41,419.43 L362.91,419.50 L363.41,419.57 L363.90,419.63 L364.40,419.70 L364.90,419.76 L365.40,419.82 L365.90,419.87 L366.39,419.93 L366.89,419.99 L367.39,420.04 L367.89,420.09 L368.39,420.14 L368.89,420.19 L369.38,420.24 L369.88,420.28 L370.38,420.33 L370.88,420.37 L371.38,420.41 L371.87,420.46 L372.37,420.50 L372.87,420.53 L373.37,420.57 L373.87,420.61 L374.37,420.65 L374.86,420.68 L375.36,420.71 L375.86,420.75 L376.36,420.78 L376.86,420.81 L377.35,420.84 L377.85,420.87 L378.35,420.90 L378.85,420.93 L379.35,420.96 L379.84,420.98 L380.34,421.01 L380.84,421.04 L381.34,421.06 L381.84,421.09 L382.34,421.11 L382.83,421.13 L383.33,421.16 L383.83,421.18 L384.33,421.20 L384.83,421.22 L385.32,421.24 L385.82,421.26 L386.32,421.28 L386.82,421.30 L387.32,421.32 L387.81,421.34 L388.31,421.36 L388.81,421.38 L389.31,421.39 L389.81,421.41 L390.30,421.43 L390.80,421.44 L391.30,421.46 L391.80,421.47 L392.30,421.49 L392.80,421.50 L393.29,421.52 L393.79,421.53 L394.29,421.55 L394.79,421.56 L395.29,421.57 L395.78,421.59 L396.28,421.60 L396.78,421.61 L397.28,421.62 L397.78,421.64 L398.27,421.65 L398.77,421.66 L399.27,421.67 L399.77,421.68 L400.27,421.69 L400.77,421.70 L401.26,421.71 L401.76,421.72 L402.26,421.73 L402.76,421.74 L403.26,421.75 L403.75,421.76 L404.25,421.77 L404.75,421.78 L405.25,421.79 L405.75,421.80 L406.25,421.81 L406.74,421.82 L407.24,421.83 L407.74,421.83 L408.24,421.84 L408.74,421.85 L409.23,421.86 L409.73,421.86 L410.23,421.87 L410.73,421.88 L411.23,421.89 L411.72,421.89 L412.22,421.90 L412.72,421.91 L413.22,421.91 L413.72,421.92 L414.22,421.93 L414.71,421.93 L415.21,421.94 L415.71,421.95 L416.21,421.95 L416.71,421.96 L417.20,421.97 L417.70,421.97 L418.20,421.98" fill="none" stroke="#38b060" stroke-width="0.9"/>
<path d="M258.80,422.37 L259.30,422.37 L259.80,422.37 L260.29,422.37 L260.79,422.36 L261.29,422.36 L261.79,422.36 L262.29,422.36 L262.79,422.35 L263.28,422.35 L263.78,422.35 L264.28,422.35 L264.78,422.35 L265.28,422.34 L265.77,422.34 L266.27,422.34 L266.77,422.33 L267.27,422.33 L267.77,422.33 L268.26,422.33 L268.76,422.32 L269.26,422.32 L269.76,422.32 L270.26,422.31 L270.75,422.31 L271.25,422.31 L271.75,422.30 L272.25,422.30 L272.75,422.30 L273.25,422.29 L273.74,422.29 L274.24,422.28 L274.74,422.28 L275.24,422.28 L275.74,422.27 L276.23,422.27 L276.73,422.26 L277.23,422.26 L277.73,422.25 L278.23,422.25 L278.73,422.24 L279.22,422.24 L279.72,422.23 L280.22,422.22 L280.72,422.22 L281.22,422.21 L281.71,422.21 L282.21,422.20 L282.71,422.19 L283.21,422.18 L283.71,422.18 L284.20,422.17 L284.70,422.16 L285.20,422.15 L285.70,422.15 L286.20,422.14 L286.69,422.13 L287.19,422.12 L287.69,422.11 L288.19,422.10 L288.69,422.09 L289.19,422.08 L289.68,422.06 L290.18,422.05 L290.68,422.04 L291.18,422.03 L291.68,422.01 L292.17,422.00 L292.67,421.98 L293.17,421.97 L293.67,421.95 L294.17,421.94 L294.67,421.92 L295.16,421.90 L295.66,421.88 L296.16,421.86 L296.66,421.84 L297.16,421.82 L297.65,421.79 L298.15,421.77 L298.65,421.74 L299.15,421.71 L299.65,421.68 L300.14,421.65 L300.64,421.62 L301.14,421.59 L301.64,421.55 L302.14,421.51 L302.63,421.47 L303.13,421.42 L303.63,421.38 L304.13,421.33 L304.63,421.28 L305.13,421.22 L305.62,421.16 L306.12,421.09 L306.62,421.02 L307.12,420.95 L307.62,420.87 L308.11,420.78 L308.61,420.69 L309.11,420.58 L309.61,420.47 L310.11,420.35 L310.61,420.22 L311.10,420.08 L311.60,419.93 L312.10,419.75 L312.60,419.57 L313.10,419.36 L313.59,419.13 L314.09,418.88 L314.59,418.59 L315.09,418.28 L315.59,417.92 L316.08,417.53 L316.58,417.08 L317.08,416.58 L317.58,416.01 L318.08,415.36 L318.57,414.62 L319.07,413.78 L319.57,412.81 L320.07,411.70 L320.57,410.43 L321.07,408.97 L321.56,407.32 L322.06,405.46 L322.56,403.40 L323.06,401.16 L323.56,398.81 L324.05,396.47 L324.55,394.31 L325.05,392.54 L325.55,391.38 L326.05,391.00 L326.55,391.45 L327.04,392.66 L327.54,394.47 L328.04,396.65 L328.54,399.00 L329.04,401.34 L329.53,403.57 L330.03,405.62 L330.53,407.46 L331.03,409.10 L331.53,410.54 L332.02,411.79 L332.52,412.89 L333.02,413.85 L333.52,414.68 L334.02,415.42 L334.51,416.06 L335.01,416.62 L335.51,417.12 L336.01,417.56 L336.51,417.95 L337.01,418.30 L337.50,418.62 L338.00,418.90 L338.50,419.15 L339.00,419.38 L339.50,419.58 L339.99,419.77 L340.49,419.94 L340.99,420.09 L341.49,420.23 L341.99,420.36 L342.49,420.48 L342.98,420.59 L343.48,420.69 L343.98,420.79 L344.48,420.87 L344.98,420.95 L345.47,421.03 L345.97,421.10 L346.47,421.16 L346.97,421.22 L347.47,421.28 L347.96,421.33 L348.46,421.38 L348.96,421.43 L349.46,421.47 L349.96,421.51 L350.45,421.55 L350.95,421.59 L351.45,421.62 L351.95,421.66 L352.45,421.69 L352.95,421.71 L353.44,421.74 L353.94,421.77 L354.44,421.79 L354.94,421.82 L355.44,421.84 L355.93,421.86 L356.43,421.88 L356.93,421.90 L357.43,421.92 L357.93,421.94 L358.43,421.95 L358.92,421.97 L359.42,421.99 L359.92,422.00 L360.42,422.01 L360.92,422.03 L361.41,422.04 L361.91,422.05 L362.41,422.07 L362.91,422.08 L363.41,422.09 L363.90,422.10 L364.40,422.11 L364.90,422.12 L365.40,422.13 L365.90,422.14 L366.39,422.15 L366.89,422.15 L367.39,422.16 L367.89,422.17 L368.39,422.18 L368.89,422.19 L369.38,422.19 L369.88,422.20 L370.38,422.21 L370.88,422.21 L371.38,422.22 L371.87,422.22 L372.37,422.23 L372.87,422.24 L373.37,422.24 L373.87,422.25 L374.37,422.25 L374.86,422.26 L375.36,422.26 L375.86,422.27 L376.36,422.27 L376.86,422.28 L377.35,422.28 L377.85,422.28 L378.35,422.29 L378.85,422.29 L379.35,422.30 L379.84,422.30 L380.34,422.30 L380.84,422.31 L381.34,422.31 L381.84,422.31 L382.34,422.32 L382.83,422.32 L383.33,422.32 L383.83,422.33 L384.33,422.33 L384.83,422.33 L385.32,422.33 L385.82,422.34 L386.32,422.34 L386.82,422.34 L387.32,422.35 L387.81,422.35 L388.31,422.35 L388.81,422.35 L389.31,422.35 L389.81,422.36 L390.30,422.36 L390.80,422.36 L391.30,422.36 L391.80,422.37 L392.30,422.37 L392.80,422.37 L393.29,422.37 L393.79,422.37 L394.29,422.38 L394.79,422.38 L395.29,422.38 L395.78,422.38 L396.28,422.38 L396.78,422.38 L397.28,422.39 L397.78,422.39 L398.27,422.39 L398.77,422.39 L399.27,422.39 L399.77,422.39 L400.27,422.39 L400.77,422.40 L401.26,422.40 L401.76,422.40 L402.26,422.40 L402.76,422.40 L403.26,422.40 L403.75,422.40 L404.25,422.40 L404.75,422.41 L405.25,422.41 L405.75,422.41 L406.25,422.41 L406.74,422.41 L407.24,422.41 L407.74,422.41 L408.24,422.41 L408.74,422.41 L409.23,422.42 L409.73,422.42 L410.23,422.42 L410.73,422.42 L411.23,422.42 L411.72,422.42 L412.22,422.42 L412.72,422.42 L413.22,422.42 L413.72,422.42 L414.22,422.43 L414.71,422.43 L415.21,422.43 L415.71,422.43 L416.21,422.43 L416.71,422.43 L417.20,422.43 L417.70,422.43 L418.20,422.43" fill="none" stroke="#f09020" stroke-width="1.0"/>
<path d="M258.80,422.50 L259.30,422.50 L259.80,422.50 L260.29,422.49 L260.79,422.49 L261.29,422.49 L261.79,422.49 L262.29,422.49 L262.79,422.49 L263.28,422.49 L263.78,422.49 L264.28,422.49 L264.78,422.49 L265.28,422.49 L265.77,422.49 L266.27,422.49 L266.77,422.49 L267.27,422.49 L267.77,422.49 L268.26,422.49 L268.76,422.49 L269.26,422.49 L269.76,422.49 L270.26,422.49 L270.75,422.49 L271.25,422.49 L271.75,422.49 L272.25,422.49 L272.75,422.49 L273.25,422.49 L273.74,422.49 L274.24,422.49 L274.74,422.49 L275.24,422.49 L275.74,422.49 L276.23,422.49 L276.73,422.49 L277.23,422.49 L277.73,422.49 L278.23,422.49 L278.73,422.49 L279.22,422.49 L279.72,422.49 L280.22,422.49 L280.72,422.49 L281.22,422.49 L281.71,422.49 L282.21,422.49 L282.71,422.49 L283.21,422.49 L283.71,422.49 L284.20,422.49 L284.70,422.49 L285.20,422.49 L285.70,422.49 L286.20,422.49 L286.69,422.49 L287.19,422.49 L287.69,422.49 L288.19,422.49 L288.69,422.49 L289.19,422.49 L289.68,422.49 L290.18,422.49 L290.68,422.49 L291.18,422.49 L291.68,422.49 L292.17,422.49 L292.67,422.49 L293.17,422.49 L293.67,422.49 L294.17,422.49 L294.67,422.49 L295.16,422.49 L295.66,422.49 L296.16,422.49 L296.66,422.49 L297.16,422.49 L297.65,422.48 L298.15,422.48 L298.65,422.48 L299.15,422.48 L299.65,422.48 L300.14,422.48 L300.64,422.48 L301.14,422.48 L301.64,422.48 L302.14,422.48 L302.63,422.48 L303.13,422.48 L303.63,422.48 L304.13,422.48 L304.63,422.48 L305.13,422.48 L305.62,422.48 L306.12,422.48 L306.62,422.48 L307.12,422.48 L307.62,422.48 L308.11,422.48 L308.61,422.48 L309.11,422.47 L309.61,422.47 L310.11,422.47 L310.61,422.47 L311.10,422.47 L311.60,422.47 L312.10,422.47 L312.60,422.47 L313.10,422.47 L313.59,422.47 L314.09,422.47 L314.59,422.47 L315.09,422.46 L315.59,422.46 L316.08,422.46 L316.58,422.46 L317.08,422.46 L317.58,422.46 L318.08,422.46 L318.57,422.46 L319.07,422.45 L319.57,422.45 L320.07,422.45 L320.57,422.45 L321.07,422.45 L321.56,422.44 L322.06,422.44 L322.56,422.44 L323.06,422.44 L323.56,422.44 L324.05,422.43 L324.55,422.43 L325.05,422.43 L325.55,422.42 L326.05,422.42 L326.55,422.42 L327.04,422.41 L327.54,422.41 L328.04,422.40 L328.54,422.40 L329.04,422.39 L329.53,422.39 L330.03,422.38 L330.53,422.37 L331.03,422.37 L331.53,422.36 L332.02,422.35 L332.52,422.34 L333.02,422.33 L333.52,422.32 L334.02,422.31 L334.51,422.29 L335.01,422.28 L335.51,422.26 L336.01,422.24 L336.51,422.21 L337.01,422.19 L337.50,422.16 L338.00,422.13 L338.50,422.09 L339.00,422.04 L339.50,421.99 L339.99,421.93 L340.49,421.85 L340.99,421.76 L341.49,421.65 L341.99,421.52 L342.49,421.35 L342.98,421.14 L343.48,420.87 L343.98,420.51 L344.48,420.03 L344.98,419.37 L345.47,418.46 L345.97,417.18 L346.47,415.44 L346.97,413.25 L347.47,411.06 L347.96,409.91 L348.46,410.64 L348.96,412.70 L349.46,414.95 L349.96,416.81 L350.45,418.19 L350.95,419.18 L351.45,419.89 L351.95,420.40 L352.45,420.79 L352.95,421.08 L353.44,421.31 L353.94,421.48 L354.44,421.62 L354.94,421.74 L355.44,421.83 L355.93,421.91 L356.43,421.97 L356.93,422.03 L357.43,422.08 L357.93,422.12 L358.43,422.15 L358.92,422.18 L359.42,422.21 L359.92,422.23 L360.42,422.25 L360.92,422.27 L361.41,422.29 L361.91,422.30 L362.41,422.32 L362.91,422.33 L363.41,422.34 L363.90,422.35 L364.40,422.36 L364.90,422.37 L365.40,422.37 L365.90,422.38 L366.39,422.39 L366.89,422.39 L367.39,422.40 L367.89,422.40 L368.39,422.41 L368.89,422.41 L369.38,422.42 L369.88,422.42 L370.38,422.42 L370.88,422.43 L371.38,422.43 L371.87,422.43 L372.37,422.43 L372.87,422.44 L373.37,422.44 L373.87,422.44 L374.37,422.44 L374.86,422.45 L375.36,422.45 L375.86,422.45 L376.36,422.45 L376.86,422.45 L377.35,422.46 L377.85,422.46 L378.35,422.46 L378.85,422.46 L379.35,422.46 L379.84,422.46 L380.34,422.46 L380.84,422.46 L381.34,422.47 L381.84,422.47 L382.34,422.47 L382.83,422.47 L383.33,422.47 L383.83,422.47 L384.33,422.47 L384.83,422.47 L385.32,422.47 L385.82,422.47 L386.32,422.47 L386.82,422.47 L387.32,422.47 L387.81,422.48 L388.31,422.48 L388.81,422.48 L389.31,422.48 L389.81,422.48 L390.30,422.48 L390.80,422.48 L391.30,422.48 L391.80,422.48 L392.30,422.48 L392.80,422.48 L393.29,422.48 L393.79,422.48 L394.29,422.48 L394.79,422.48 L395.29,422.48 L395.78,422.48 L396.28,422.48 L396.78,422.48 L397.28,422.48 L397.78,422.48 L398.27,422.48 L398.77,422.48 L399.27,422.49 L399.77,422.49 L400.27,422.49 L400.77,422.49 L401.26,422.49 L401.76,422.49 L402.26,422.49 L402.76,422.49 L403.26,422.49 L403.75,422.49 L404.25,422.49 L404.75,422.49 L405.25,422.49 L405.75,422.49 L406.25,422.49 L406.74,422.49 L407.24,422.49 L407.74,422.49 L408.24,422.49 L408.74,422.49 L409.23,422.49 L409.73,422.49 L410.23,422.49 L410.73,422.49 L411.23,422.49 L411.72,422.49 L412.22,422.49 L412.72,422.49 L413.22,422.49 L413.72,422.49 L414.22,422.49 L414.71,422.49 L415.21,422.49 L415.71,422.49 L416.21,422.49 L416.71,422.49 L417.20,422.49 L417.70,422.49 L418.20,422.49" fill="none" stroke="#e020d0" stroke-width="1.0"/>
<path d="M258.80,422.50 L259.30,422.50 L259.80,422.50 L260.29,422.50 L260.79,422.50 L261.29,422.50 L261.79,422.50 L262.29,422.50 L262.79,422.50 L263.28,422.50 L263.78,422.50 L264.28,422.50 L264.78,422.50 L265.28,422.50 L265.77,422.50 L266.27,422.50 L266.77,422.50 L267.27,422.50 L267.77,422.50 L268.26,422.50 L268.76,422.50 L269.26,422.50 L269.76,422.50 L270.26,422.50 L270.75,422.50 L271.25,422.50 L271.75,422.50 L272.25,422.50 L272.75,422.50 L273.25,422.50 L273.74,422.50 L274.24,422.50 L274.74,422.50 L275.24,422.50 L275.74,422.50 L276.23,422.50 L276.73,422.50 L277.23,422.50 L277.73,422.50 L278.23,422.50 L278.73,422.50 L279.22,422.50 L279.72,422.50 L280.22,422.50 L280.72,422.50 L281.22,422.50 L281.71,422.50 L282.21,422.50 L282.71,422.50 L283.21,422.50 L283.71,422.50 L284.20,422.50 L284.70,422.50 L285.20,422.50 L285.70,422.50 L286.20,422.50 L286.69,422.50 L287.19,422.50 L287.69,422.50 L288.19,422.50 L288.69,422.50 L289.19,422.50 L289.68,422.50 L290.18,422.50 L290.68,422.50 L291.18,422.50 L291.68,422.50 L292.17,422.50 L292.67,422.50 L293.17,422.50 L293.67,422.50 L294.17,422.50 L294.67,422.50 L295.16,422.50 L295.66,422.50 L296.16,422.50 L296.66,422.50 L297.16,422.50 L297.65,422.50 L298.15,422.50 L298.65,422.50 L299.15,422.50 L299.65,422.50 L300.14,422.50 L300.64,422.50 L301.14,422.50 L301.64,422.50 L302.14,422.50 L302.63,422.50 L303.13,422.50 L303.63,422.50 L304.13,422.50 L304.63,422.50 L305.13,422.50 L305.62,422.50 L306.12,422.50 L306.62,422.50 L307.12,422.50 L307.62,422.50 L308.11,422.50 L308.61,422.50 L309.11,422.50 L309.61,422.50 L310.11,422.50 L310.61,422.50 L311.10,422.50 L311.60,422.50 L312.10,422.50 L312.60,422.50 L313.10,422.50 L313.59,422.50 L314.09,422.50 L314.59,422.50 L315.09,422.50 L315.59,422.50 L316.08,422.50 L316.58,422.50 L317.08,422.50 L317.58,422.50 L318.08,422.50 L318.57,422.50 L319.07,422.50 L319.57,422.49 L320.07,422.49 L320.57,422.49 L321.07,422.49 L321.56,422.49 L322.06,422.49 L322.56,422.49 L323.06,422.49 L323.56,422.49 L324.05,422.49 L324.55,422.49 L325.05,422.49 L325.55,422.49 L326.05,422.49 L326.55,422.49 L327.04,422.49 L327.54,422.49 L328.04,422.49 L328.54,422.49 L329.04,422.49 L329.53,422.49 L330.03,422.49 L330.53,422.49 L331.03,422.49 L331.53,422.49 L332.02,422.49 L332.52,422.49 L333.02,422.48 L333.52,422.48 L334.02,422.48 L334.51,422.48 L335.01,422.48 L335.51,422.48 L336.01,422.48 L336.51,422.48 L337.01,422.47 L337.50,422.47 L338.00,422.47 L338.50,422.47 L339.00,422.47 L339.50,422.46 L339.99,422.46 L340.49,422.46 L340.99,422.45 L341.49,422.45 L341.99,422.44 L342.49,422.43 L342.98,422.43 L343.48,422.42 L343.98,422.40 L344.48,422.39 L344.98,422.37 L345.47,422.35 L345.97,422.32 L346.47,422.28 L346.97,422.23 L347.47,422.16 L347.96,422.05 L348.46,421.90 L348.96,421.64 L349.46,421.22 L349.96,420.44 L350.45,419.06 L350.95,417.28 L351.45,417.23 L351.95,418.99 L352.45,420.40 L352.95,421.19 L353.44,421.63 L353.94,421.89 L354.44,422.05 L354.94,422.15 L355.44,422.23 L355.93,422.28 L356.43,422.32 L356.93,422.35 L357.43,422.37 L357.93,422.39 L358.43,422.40 L358.92,422.42 L359.42,422.43 L359.92,422.43 L360.42,422.44 L360.92,422.45 L361.41,422.45 L361.91,422.46 L362.41,422.46 L362.91,422.46 L363.41,422.47 L363.90,422.47 L364.40,422.47 L364.90,422.47 L365.40,422.47 L365.90,422.48 L366.39,422.48 L366.89,422.48 L367.39,422.48 L367.89,422.48 L368.39,422.48 L368.89,422.48 L369.38,422.48 L369.88,422.49 L370.38,422.49 L370.88,422.49 L371.38,422.49 L371.87,422.49 L372.37,422.49 L372.87,422.49 L373.37,422.49 L373.87,422.49 L374.37,422.49 L374.86,422.49 L375.36,422.49 L375.86,422.49 L376.36,422.49 L376.86,422.49 L377.35,422.49 L377.85,422.49 L378.35,422.49 L378.85,422.49 L379.35,422.49 L379.84,422.49 L380.34,422.49 L380.84,422.49 L381.34,422.49 L381.84,422.49 L382.34,422.49 L382.83,422.49 L383.33,422.50 L383.83,422.50 L384.33,422.50 L384.83,422.50 L385.32,422.50 L385.82,422.50 L386.32,422.50 L386.82,422.50 L387.32,422.50 L387.81,422.50 L388.31,422.50 L388.81,422.50 L389.31,422.50 L389.81,422.50 L390.30,422.50 L390.80,422.50 L391.30,422.50 L391.80,422.50 L392.30,422.50 L392.80,422.50 L393.29,422.50 L393.79,422.50 L394.29,422.50 L394.79,422.50 L395.29,422.50 L395.78,422.50 L396.28,422.50 L396.78,422.50 L397.28,422.50 L397.78,422.50 L398.27,422.50 L398.77,422.50 L399.27,422.50 L399.77,422.50 L400.27,422.50 L400.77,422.50 L401.26,422.50 L401.76,422.50 L402.26,422.50 L402.76,422.50 L403.26,422.50 L403.75,422.50 L404.25,422.50 L404.75,422.50 L405.25,422.50 L405.75,422.50 L406.25,422.50 L406.74,422.50 L407.24,422.50 L407.74,422.50 L408.24,422.50 L408.74,422.50 L409.23,422.50 L409.73,422.50 L410.23,422.50 L410.73,422.50 L411.23,422.50 L411.72,422.50 L412.22,422.50 L412.72,422.50 L413.22,422.50 L413.72,422.50 L414.22,422.50 L414.71,422.50 L415.21,422.50 L415.71,422.50 L416.21,422.50 L416.71,422.50 L417.20,422.50 L417.70,422.50 L418.20,422.50" fill="none" stroke="#2030f0" stroke-width="1.0"/>
<path d="M258.8,422.8 L418.2,422.8" stroke="#5020e0" stroke-width="0.9" stroke-dasharray="1.2,0.8"/>
<path d="M258.80,421.05 L259.30,421.36 L259.80,421.13 L260.29,421.09 L260.79,421.22 L261.29,421.10 L261.79,421.19 L262.29,421.01 L262.79,421.30 L263.28,421.05 L263.78,421.25 L264.28,420.96 L264.78,421.20 L265.28,421.26 L265.77,421.01 L266.27,420.85 L266.77,420.97 L267.27,421.06 L267.77,420.88 L268.26,420.99 L268.76,420.79 L269.26,420.93 L269.76,421.01 L270.26,420.88 L270.75,420.96 L271.25,420.71 L271.75,420.98 L272.25,420.68 L272.75,420.98 L273.25,420.99 L273.74,420.94 L274.24,420.76 L274.74,420.64 L275.24,420.64 L275.74,420.78 L276.23,420.65 L276.73,420.80 L277.23,420.44 L277.73,420.57 L278.23,420.70 L278.73,420.57 L279.22,420.51 L279.72,420.31 L280.22,420.30 L280.72,420.32 L281.22,420.54 L281.71,420.49 L282.21,420.21 L282.71,420.45 L283.21,420.06 L283.71,420.26 L284.20,420.37 L284.70,420.08 L285.20,420.28 L285.70,420.13 L286.20,419.85 L286.69,419.92 L287.19,419.92 L287.69,419.80 L288.19,419.95 L288.69,419.68 L289.19,419.88 L289.68,419.63 L290.18,419.49 L290.68,419.63 L291.18,419.39 L291.68,419.52 L292.17,419.56 L292.67,419.42 L293.17,419.31 L293.67,419.07 L294.17,419.20 L294.67,418.97 L295.16,419.12 L295.66,418.84 L296.16,418.94 L296.66,418.78 L297.16,418.70 L297.65,418.74 L298.15,418.45 L298.65,418.37 L299.15,418.58 L299.65,418.24 L300.14,418.35 L300.64,418.26 L301.14,417.99 L301.64,417.75 L302.14,417.61 L302.63,417.81 L303.13,417.38 L303.63,417.40 L304.13,417.28 L304.63,416.97 L305.13,416.96 L305.62,416.68 L306.12,416.67 L306.62,416.49 L307.12,416.25 L307.62,416.00 L308.11,415.89 L308.61,415.60 L309.11,415.35 L309.61,415.17 L310.11,415.18 L310.61,414.77 L311.10,414.66 L311.60,414.02 L312.10,414.08 L312.60,413.58 L313.10,413.35 L313.59,412.88 L314.09,412.53 L314.59,411.91 L315.09,411.65 L315.59,410.90 L316.08,410.38 L316.58,409.68 L317.08,409.16 L317.58,408.47 L318.08,407.56 L318.57,406.88 L319.07,405.54 L319.57,404.60 L320.07,403.17 L320.57,401.87 L321.07,400.32 L321.56,398.47 L322.06,396.17 L322.56,394.01 L323.06,391.74 L323.56,389.39 L324.05,386.51 L324.55,384.43 L325.05,382.54 L325.55,381.29 L326.05,380.59 L326.55,381.10 L327.04,382.05 L327.54,383.94 L328.04,385.66 L328.54,388.29 L329.04,390.34 L329.53,392.51 L330.03,394.38 L330.53,396.25 L331.03,398.05 L331.53,399.45 L332.02,400.50 L332.52,401.69 L333.02,402.59 L333.52,403.48 L334.02,404.27 L334.51,405.01 L335.01,405.90 L335.51,406.49 L336.01,406.93 L336.51,407.29 L337.01,407.74 L337.50,408.27 L338.00,408.71 L338.50,409.00 L339.00,409.29 L339.50,409.42 L339.99,409.87 L340.49,410.22 L340.99,410.43 L341.49,410.35 L341.99,410.76 L342.49,410.73 L342.98,410.72 L343.48,411.03 L343.98,410.81 L344.48,410.60 L344.98,409.93 L345.47,409.52 L345.97,408.49 L346.47,406.93 L346.97,404.85 L347.47,402.83 L347.96,401.78 L348.46,402.47 L348.96,404.41 L349.46,406.58 L349.96,407.83 L350.45,408.04 L350.95,407.20 L351.45,408.29 L351.95,410.55 L352.45,412.68 L352.95,413.58 L353.44,414.73 L353.94,415.24 L354.44,415.46 L354.94,416.05 L355.44,416.11 L355.93,416.35 L356.43,416.68 L356.93,416.79 L357.43,417.08 L357.93,417.41 L358.43,417.48 L358.92,417.64 L359.42,417.65 L359.92,417.93 L360.42,418.06 L360.92,418.13 L361.41,418.34 L361.91,418.40 L362.41,418.33 L362.91,418.30 L363.41,418.62 L363.90,418.78 L364.40,418.67 L364.90,418.85 L365.40,419.03 L365.90,419.09 L366.39,418.84 L366.89,419.11 L367.39,418.99 L367.89,419.09 L368.39,419.43 L368.89,419.34 L369.38,419.47 L369.88,419.47 L370.38,419.48 L370.88,419.48 L371.38,419.59 L371.87,419.84 L372.37,419.80 L372.87,419.71 L373.37,419.68 L373.87,419.80 L374.37,420.01 L374.86,419.95 L375.36,420.08 L375.86,420.18 L376.36,419.94 L376.86,420.21 L377.35,419.99 L377.85,420.34 L378.35,420.11 L378.85,420.18 L379.35,420.49 L379.84,420.29 L380.34,420.26 L380.84,420.56 L381.34,420.48 L381.84,420.62 L382.34,420.45 L382.83,420.52 L383.33,420.73 L383.83,420.57 L384.33,420.79 L384.83,420.50 L385.32,420.78 L385.82,420.53 L386.32,420.70 L386.82,420.52 L387.32,420.61 L387.81,420.94 L388.31,420.76 L388.81,420.92 L389.31,420.72 L389.81,420.78 L390.30,420.70 L390.80,420.90 L391.30,421.04 L391.80,420.92 L392.30,420.88 L392.80,421.12 L393.29,421.13 L393.79,421.05 L394.29,420.83 L394.79,421.07 L395.29,421.01 L395.78,421.23 L396.28,421.01 L396.78,421.14 L397.28,421.14 L397.78,421.05 L398.27,421.13 L398.77,421.20 L399.27,421.31 L399.77,421.16 L400.27,421.12 L400.77,421.37 L401.26,421.02 L401.76,421.34 L402.26,421.29 L402.76,421.25 L403.26,421.22 L403.75,421.35 L404.25,421.42 L404.75,421.37 L405.25,421.38 L405.75,421.11 L406.25,421.23 L406.74,421.17 L407.24,421.51 L407.74,421.49 L408.24,421.20 L408.74,421.39 L409.23,421.39 L409.73,421.19 L410.23,421.34 L410.73,421.49 L411.23,421.45 L411.72,421.32 L412.22,421.52 L412.72,421.34 L413.22,421.45 L413.72,421.40 L414.22,421.63 L414.71,421.51 L415.21,421.58 L415.71,421.54 L416.21,421.42 L416.71,421.66 L417.20,421.57 L417.70,421.57 L418.20,421.41" fill="none" stroke="#444" stroke-width="1.15"/>
<path d="M258.8,425.5 L418.2,425.5" stroke="#111" stroke-width="1.3"/>
<path d="M258.8,425.5 L258.8,428.6" stroke="#111" stroke-width="0.9"/>
<text x="258.8" y="438.4" font-size="9.3" fill="#222" text-anchor="middle" font-weight="normal" >15</text>
<path d="M274.7,425.5 L274.7,427.4" stroke="#111" stroke-width="0.7"/>
<path d="M290.6,425.5 L290.6,428.6" stroke="#111" stroke-width="0.9"/>
<text x="290.6" y="438.4" font-size="9.3" fill="#222" text-anchor="middle" font-weight="normal" >10</text>
<path d="M306.6,425.5 L306.6,427.4" stroke="#111" stroke-width="0.7"/>
<path d="M322.5,425.5 L322.5,428.6" stroke="#111" stroke-width="0.9"/>
<text x="322.5" y="438.4" font-size="9.3" fill="#222" text-anchor="middle" font-weight="normal" >5</text>
<path d="M338.5,425.5 L338.5,427.4" stroke="#111" stroke-width="0.7"/>
<path d="M354.4,425.5 L354.4,428.6" stroke="#111" stroke-width="0.9"/>
<text x="354.4" y="438.4" font-size="9.3" fill="#222" text-anchor="middle" font-weight="normal" >0</text>
<path d="M370.3,425.5 L370.3,427.4" stroke="#111" stroke-width="0.7"/>
<path d="M386.3,425.5 L386.3,428.6" stroke="#111" stroke-width="0.9"/>
<text x="386.3" y="438.4" font-size="9.3" fill="#222" text-anchor="middle" font-weight="normal" >-5</text>
<path d="M402.2,425.5 L402.2,427.4" stroke="#111" stroke-width="0.7"/>
<path d="M418.2,425.5 L418.2,428.6" stroke="#111" stroke-width="0.9"/>
<text x="418.2" y="438.4" font-size="9.3" fill="#222" text-anchor="middle" font-weight="normal" >-10</text>
<text x="295.5" y="447.2" font-size="9.3" fill="#222" text-anchor="start" font-weight="normal" textLength="85.3" lengthAdjust="spacingAndGlyphs" >Chemical shift (ppm)</text>
<rect x="515" y="266.9" width="15.8" height="135.9" fill="#1a1af0"/>
<rect x="618.2" y="266.9" width="15.8" height="18.2" fill="#1a1af0"/>
<path d="M496.8,266.9 L496.8,431.8 L651.4,431.8" fill="none" stroke="#222" stroke-width="1.2"/>
<path d="M496.8,266.9 L651.4,266.9 L651.4,431.8" fill="none" stroke="#1a1af0" stroke-width="1.3"/>
<path d="M494.0,431.8 L496.8,431.8" stroke="#222" stroke-width="1"/>
<text x="492.6" y="434.9" font-size="8.9" fill="#222" text-anchor="end" font-weight="normal" >0</text>
<path d="M494.0,405.3 L496.8,405.3" stroke="#222" stroke-width="1"/>
<text x="492.6" y="408.4" font-size="8.9" fill="#222" text-anchor="end" font-weight="normal" >2</text>
<path d="M494.0,378.8 L496.8,378.8" stroke="#222" stroke-width="1"/>
<text x="492.6" y="381.9" font-size="8.9" fill="#222" text-anchor="end" font-weight="normal" >4</text>
<path d="M494.0,352.3 L496.8,352.3" stroke="#222" stroke-width="1"/>
<text x="492.6" y="355.4" font-size="8.9" fill="#222" text-anchor="end" font-weight="normal" >6</text>
<path d="M494.0,325.8 L496.8,325.8" stroke="#222" stroke-width="1"/>
<text x="492.6" y="328.9" font-size="8.9" fill="#222" text-anchor="end" font-weight="normal" >8</text>
<path d="M494.0,299.3 L496.8,299.3" stroke="#222" stroke-width="1"/>
<text x="492.6" y="302.4" font-size="8.9" fill="#222" text-anchor="end" font-weight="normal" >10</text>
<path d="M494.0,272.8 L496.8,272.8" stroke="#222" stroke-width="1"/>
<text x="492.6" y="275.9" font-size="8.9" fill="#222" text-anchor="end" font-weight="normal" >12</text>
<path d="M495.2,418.6 L496.8,418.6" stroke="#222" stroke-width="0.7"/>
<path d="M495.2,392.1 L496.8,392.1" stroke="#222" stroke-width="0.7"/>
<path d="M495.2,365.6 L496.8,365.6" stroke="#222" stroke-width="0.7"/>
<path d="M495.2,339.1 L496.8,339.1" stroke="#222" stroke-width="0.7"/>
<path d="M495.2,312.6 L496.8,312.6" stroke="#222" stroke-width="0.7"/>
<path d="M495.2,286.1 L496.8,286.1" stroke="#222" stroke-width="0.7"/>
<path d="M497.0,431.8 L497.0,434.8" stroke="#222" stroke-width="1"/>
<text x="497.0" y="444.2" font-size="8.9" fill="#222" text-anchor="middle" font-weight="normal" >0</text>
<path d="M531.3,431.8 L531.3,434.8" stroke="#222" stroke-width="1"/>
<text x="531.3" y="444.2" font-size="8.9" fill="#222" text-anchor="middle" font-weight="normal" >20</text>
<path d="M565.6,431.8 L565.6,434.8" stroke="#222" stroke-width="1"/>
<text x="565.6" y="444.2" font-size="8.9" fill="#222" text-anchor="middle" font-weight="normal" >40</text>
<path d="M599.9,431.8 L599.9,434.8" stroke="#222" stroke-width="1"/>
<text x="599.9" y="444.2" font-size="8.9" fill="#222" text-anchor="middle" font-weight="normal" >60</text>
<path d="M634.2,431.8 L634.2,434.8" stroke="#222" stroke-width="1"/>
<text x="634.2" y="444.2" font-size="8.9" fill="#222" text-anchor="middle" font-weight="normal" >80</text>
<path d="M514.1,431.8 L514.1,433.5" stroke="#222" stroke-width="0.7"/>
<path d="M548.5,431.8 L548.5,433.5" stroke="#222" stroke-width="0.7"/>
<path d="M582.8,431.8 L582.8,433.5" stroke="#222" stroke-width="0.7"/>
<path d="M617.0,431.8 L617.0,433.5" stroke="#222" stroke-width="0.7"/>
<path d="M651.4,266.9 L654.4,266.9" stroke="#1a1af0" stroke-width="1"/>
<text x="655.8" y="270.1" font-size="9.2" fill="#1a1af0" text-anchor="start" font-weight="normal" >0</text>
<path d="M651.4,299.9 L654.4,299.9" stroke="#1a1af0" stroke-width="1"/>
<text x="655.8" y="303.1" font-size="9.2" fill="#1a1af0" text-anchor="start" font-weight="normal" >20</text>
<path d="M651.4,332.9 L654.4,332.9" stroke="#1a1af0" stroke-width="1"/>
<text x="655.8" y="336.1" font-size="9.2" fill="#1a1af0" text-anchor="start" font-weight="normal" >40</text>
<path d="M651.4,365.8 L654.4,365.8" stroke="#1a1af0" stroke-width="1"/>
<text x="655.8" y="369.0" font-size="9.2" fill="#1a1af0" text-anchor="start" font-weight="normal" >60</text>
<path d="M651.4,398.8 L654.4,398.8" stroke="#1a1af0" stroke-width="1"/>
<text x="655.8" y="402.0" font-size="9.2" fill="#1a1af0" text-anchor="start" font-weight="normal" >80</text>
<path d="M651.4,431.8 L654.4,431.8" stroke="#1a1af0" stroke-width="1"/>
<text x="655.8" y="435.0" font-size="9.2" fill="#1a1af0" text-anchor="start" font-weight="normal" >100</text>
<path d="M651.4,283.4 L653.1,283.4" stroke="#1a1af0" stroke-width="0.7"/>
<path d="M651.4,316.4 L653.1,316.4" stroke="#1a1af0" stroke-width="0.7"/>
<path d="M651.4,349.3 L653.1,349.3" stroke="#1a1af0" stroke-width="0.7"/>
<path d="M651.4,382.3 L653.1,382.3" stroke="#1a1af0" stroke-width="0.7"/>
<path d="M651.4,415.3 L653.1,415.3" stroke="#1a1af0" stroke-width="0.7"/>
<path d="M497.0,266.9 L497.0,265.7" stroke="#1a1af0" stroke-width="0.6"/>
<path d="M514.1,266.9 L514.1,265.7" stroke="#1a1af0" stroke-width="0.6"/>
<path d="M531.3,266.9 L531.3,265.7" stroke="#1a1af0" stroke-width="0.6"/>
<path d="M548.5,266.9 L548.5,265.7" stroke="#1a1af0" stroke-width="0.6"/>
<path d="M565.6,266.9 L565.6,265.7" stroke="#1a1af0" stroke-width="0.6"/>
<path d="M582.8,266.9 L582.8,265.7" stroke="#1a1af0" stroke-width="0.6"/>
<path d="M599.9,266.9 L599.9,265.7" stroke="#1a1af0" stroke-width="0.6"/>
<path d="M617.0,266.9 L617.0,265.7" stroke="#1a1af0" stroke-width="0.6"/>
<path d="M634.2,266.9 L634.2,265.7" stroke="#1a1af0" stroke-width="0.6"/>
<path d="M651.4,266.9 L651.4,265.7" stroke="#1a1af0" stroke-width="0.6"/>
<path d="M497.0,431.8 C502.7,425.8 519.9,411.3 531.3,396.0 C542.7,380.8 554.2,354.1 565.6,340.4 C577.0,326.7 588.5,320.7 599.9,313.9 C611.3,307.0 628.5,301.7 634.2,299.3" fill="none" stroke="#222" stroke-width="1.3" stroke-dasharray="7,4.6"/>
<circle cx="531.3" cy="396.0" r="1.4" fill="#fff" stroke="#222" stroke-width="0.8"/>
<circle cx="565.6" cy="340.4" r="1.4" fill="#fff" stroke="#222" stroke-width="0.8"/>
<circle cx="599.9" cy="313.9" r="1.4" fill="#fff" stroke="#222" stroke-width="0.8"/>
<circle cx="634.2" cy="299.3" r="1.4" fill="#fff" stroke="#222" stroke-width="0.8"/>
<path d="M497.0,431.8 C502.7,430.8 519.9,427.7 531.3,425.8 C542.7,424.0 554.2,422.1 565.6,420.5 C577.0,419.0 588.5,417.7 599.9,416.6 C611.3,415.5 628.5,414.4 634.2,413.9" fill="none" stroke="#30b068" stroke-width="1.2" stroke-dasharray="7,4.6"/>
<circle cx="497.0" cy="431.8" r="1.4" fill="#fff" stroke="#30b068" stroke-width="0.8"/>
<circle cx="531.3" cy="425.8" r="1.4" fill="#fff" stroke="#30b068" stroke-width="0.8"/>
<circle cx="565.6" cy="420.5" r="1.4" fill="#fff" stroke="#30b068" stroke-width="0.8"/>
<circle cx="599.9" cy="416.6" r="1.4" fill="#fff" stroke="#30b068" stroke-width="0.8"/>
<circle cx="634.2" cy="413.9" r="1.4" fill="#fff" stroke="#30b068" stroke-width="0.8"/>
<path d="M577.7,337.7 L582.6,337.7 M588.6,337.7 L593.2,337.7" stroke="#222" stroke-width="1.2"/>
<circle cx="585.6" cy="337.7" r="1.3" fill="#fff" stroke="#222" stroke-width="0.8"/>
<text x="596.2" y="340.6" font-size="7.6" fill="#222" text-anchor="start" font-weight="normal" textLength="50.0" lengthAdjust="spacingAndGlyphs" >SSR-SrTiO<tspan font-size="5" dy="1.4">3</tspan><tspan dy="-1.4">: Al</tspan></text>
<path d="M577.7,349.1 L582.6,349.1 M588.6,349.1 L593.2,349.1" stroke="#30b068" stroke-width="1.2"/>
<circle cx="585.6" cy="349.1" r="1.3" fill="#fff" stroke="#30b068" stroke-width="0.8"/>
<text x="596.2" y="352.0" font-size="7.6" fill="#222" text-anchor="start" font-weight="normal" textLength="52.5" lengthAdjust="spacingAndGlyphs" >undoped SrTiO<tspan font-size="5" dy="1.4">3</tspan></text>
<text x="511.0" y="252.4" font-size="8.4" fill="#222" text-anchor="middle" font-weight="normal" textLength="17.5" lengthAdjust="spacingAndGlyphs" >SSR</text>
<text x="491.5" y="263.3" font-size="8.4" fill="#222" text-anchor="start" font-weight="normal" textLength="39.2" lengthAdjust="spacingAndGlyphs" >SrTiO<tspan font-size="5.4" dy="1.6">3</tspan><tspan dy="-1.6">: Al</tspan></text>
<text x="605.7" y="252.8" font-size="8.6" fill="#222" text-anchor="start" font-weight="normal" textLength="33.5" lengthAdjust="spacingAndGlyphs" >undoped</text>
<text x="610.9" y="263.3" font-size="8.4" fill="#222" text-anchor="start" font-weight="normal" textLength="26.2" lengthAdjust="spacingAndGlyphs" >SrTiO<tspan font-size="5.4" dy="1.6">3</tspan></text>
<text x="607.1" y="282.6" font-size="13.2" fill="#d41414" text-anchor="start" font-weight="bold" textLength="41.6" lengthAdjust="spacingAndGlyphs" >11.02%</text>
<text x="504.1" y="361.0" font-size="13.2" fill="#d41414" text-anchor="start" font-weight="bold" textLength="36.7" lengthAdjust="spacingAndGlyphs" >81.7%</text>
<text x="477.8" y="403.4" font-size="9.2" fill="#222" text-anchor="start" font-weight="normal" textLength="103.5" lengthAdjust="spacingAndGlyphs" transform="rotate(-90 477.8 403.4)" >Amount of product (μmol)</text>
<text x="668.6" y="332.5" font-size="9.8" fill="#1a1af0" text-anchor="start" font-weight="normal" textLength="36.0" lengthAdjust="spacingAndGlyphs" transform="rotate(90 668.6 332.5)" >AQE(%)</text>
<text x="551.9" y="455.0" font-size="9.4" fill="#222" text-anchor="start" font-weight="normal" textLength="44.3" lengthAdjust="spacingAndGlyphs" >Time (min)</text>
<text x="497.0" y="468.4" font-size="10.3" fill="#222" text-anchor="start" font-weight="normal" textLength="156.9" lengthAdjust="spacingAndGlyphs" >AQE for oxygen evolution reaction</text>
<defs>
<clipPath id="c8"><rect x="730.5" y="261.7" width="81.20000000000005" height="147.5"/></clipPath>
<linearGradient id="g8top" x1="0" x2="0" y1="0" y2="1">
  <stop offset="0" stop-color="#faf8ff"/><stop offset="0.3" stop-color="#d4ccf6"/>
  <stop offset="0.58" stop-color="#9490ec"/><stop offset="0.8" stop-color="#4a4ae2"/><stop offset="1" stop-color="#1616d2"/>
</linearGradient>
<linearGradient id="g8body" x1="0" x2="1" y1="0" y2="0">
  <stop offset="0" stop-color="#f3eeff"/><stop offset="0.32" stop-color="#dccdfb"/>
  <stop offset="0.58" stop-color="#b68ef4"/><stop offset="0.82" stop-color="#8a48e8"/><stop offset="1" stop-color="#6420d8"/>
</linearGradient>
<linearGradient id="g8bodyv" x1="0" x2="0" y1="0" y2="1">
  <stop offset="0" stop-color="#4010c0" stop-opacity="0.25"/><stop offset="0.4" stop-color="#4010c0" stop-opacity="0"/>
  <stop offset="1" stop-color="#fff" stop-opacity="0.12"/>
</linearGradient>
<linearGradient id="g8red" x1="0.2" x2="1" y1="1" y2="0.1">
  <stop offset="0" stop-color="#fff0f0"/><stop offset="0.35" stop-color="#ff9090"/>
  <stop offset="0.7" stop-color="#ff2020"/><stop offset="1" stop-color="#f00808"/>
</linearGradient>
<linearGradient id="g8cat" x1="0" x2="1" y1="0" y2="0">
  <stop offset="0" stop-color="#5060c8"/><stop offset="0.6" stop-color="#98a4e0"/><stop offset="1" stop-color="#d8dcf4"/>
</linearGradient>
<linearGradient id="g8trap" x1="0" x2="1" y1="0" y2="0">
  <stop offset="0" stop-color="#c8c8ff"/><stop offset="0.5" stop-color="#b060f0"/><stop offset="0.8" stop-color="#f020c0"/><stop offset="1" stop-color="#ff10a0"/>
</linearGradient>
<linearGradient id="g8pk" x1="0" x2="0" y1="0" y2="1"><stop offset="0" stop-color="#ffc0e8"/><stop offset="1" stop-color="#d020d0"/></linearGradient>
<linearGradient id="g8sq" x1="0" x2="1" y1="0" y2="0">
  <stop offset="0" stop-color="#f0e8ff"/><stop offset="1" stop-color="#a070f0"/>
</linearGradient>
</defs>
<g clip-path="url(#c8)">
<rect x="730.5" y="261.7" width="81.20000000000005" height="147.5" fill="url(#g8body)"/>
<rect x="730.5" y="261.7" width="81.20000000000005" height="147.5" fill="url(#g8bodyv)"/>
<path d="M730.5,302.2 C750,302.6 762,301.6 775,299 C790,295.8 802,293.6 811.7,292.3 L811.7,261.7 L730.5,261.7 Z" fill="url(#g8top)"/>
<path d="M730.5,409.2 C756,408.8 780,404.6 795,397 C804,391.6 809.4,383 811.7,364 L811.7,409.2 L730.5,409.2 Z" fill="url(#g8red)"/>
</g>
<path d="M733.6,312 C752,312 762,311.4 772,309 C786,306 798,305.4 810,305.2" fill="none" stroke="#2828e0" stroke-width="1.2" stroke-dasharray="5,3.4"/>
<path d="M733.6,320.8 C752,320.8 762,320 772,317.8 C786,314.8 798,314.4 810,314.3" fill="none" stroke="#2828e0" stroke-width="1.2" stroke-dasharray="5,3.4"/>
<path d="M808.6,306 L808.6,348" stroke="#2828e0" stroke-width="1.1" stroke-dasharray="1,2.6"/>
<rect x="730.5" y="261.7" width="81.20000000000005" height="147.5" fill="none" stroke="#1a1a1a" stroke-width="1.3"/>
<path d="M730.5,302.2 C750,302.6 762,301.6 775,299 C790,295.8 802,293.6 811.7,292.3" fill="none" stroke="#15153a" stroke-width="1.2"/>
<path d="M730.5,409.2 C756,408.8 780,404.6 795,397 C804,391.6 809.4,383 811.7,364" fill="none" stroke="#1a1a1a" stroke-width="1.4"/>
<path d="M755.5,403.4 C776,402.6 792,399 801,392 C805,388.6 806.6,386 807.4,383.6" fill="none" stroke="#15102a" stroke-width="1.9"/>
<path d="M808.6,380.6 L805.0,385.0 L809.4,386.2 Z" fill="#15102a"/>
<path d="M737.4,404 L737.4,299" stroke="#15102a" stroke-width="1.3"/>
<path d="M737.4,295.6 L735.3,301.2 L739.5,301.2 Z" fill="#15102a"/>
<text x="803.4" y="270.6" font-size="8" fill="#222" text-anchor="middle" font-weight="normal" textLength="10.6" lengthAdjust="spacingAndGlyphs" >CB</text>
<text x="805.0" y="408.4" font-size="8" fill="#222" text-anchor="middle" font-weight="normal" textLength="10.4" lengthAdjust="spacingAndGlyphs" >VB</text>
<text x="753.4" y="289.4" font-size="7.6" fill="#1a1a40" text-anchor="start" font-weight="normal" textLength="42.0" lengthAdjust="spacingAndGlyphs" transform="rotate(-2 753.4 289.4)" >Diffusion ~μs</text>
<text x="749.2" y="363.0" font-size="7.6" fill="#1a1a40" text-anchor="start" font-weight="normal" textLength="30.0" lengthAdjust="spacingAndGlyphs" transform="rotate(-90 749.2 363.0)" >Excitation</text>
<text x="772.4" y="345.4" font-size="7" fill="#1a1a40" text-anchor="start" font-weight="normal" textLength="8.4" lengthAdjust="spacingAndGlyphs" transform="rotate(90 772.4 345.4)" >~fs</text>
<path d="M775.6,343.6 L775.6,340 M774.6,341.6 L775.6,339.6 L776.6,341.6" fill="none" stroke="#1a1a40" stroke-width="0.7"/>
<text x="790.2" y="378.6" font-size="7.4" fill="#1a1a40" text-anchor="start" font-weight="normal" textLength="27.0" lengthAdjust="spacingAndGlyphs" transform="rotate(-53 790.2 378.6)" >Trapping</text>
<text x="767.4" y="400.2" font-size="7.4" fill="#1a1a40" text-anchor="start" font-weight="normal" textLength="28.5" lengthAdjust="spacingAndGlyphs" transform="rotate(-19 767.4 400.2)" >Drift ~ns</text>
<path d="M768.4,297.4 C777,296.8 786,293.8 794,291.8" fill="none" stroke="#e01818" stroke-width="1.7"/>
<path d="M797.4,291 L792.4,289.6 L793.4,294.2 Z" fill="#e01818"/>
<circle cx="743.2" cy="298.2" r="2.3" fill="#ffd8d8" fill-opacity="0.35" stroke="#e81818" stroke-width="0.9"/>
<path d="M742.1,298.2 L744.3000000000001,298.2" stroke="#e81818" stroke-width="0.7"/>
<circle cx="752.9" cy="298.0" r="2.3" fill="#ffd8d8" fill-opacity="0.35" stroke="#e81818" stroke-width="0.9"/>
<path d="M751.8,298.0 L754.0,298.0" stroke="#e81818" stroke-width="0.7"/>
<circle cx="762.6" cy="296.6" r="2.3" fill="#ffd8d8" fill-opacity="0.35" stroke="#e81818" stroke-width="0.9"/>
<path d="M761.5,296.6 L763.7,296.6" stroke="#e81818" stroke-width="0.7"/>
<circle cx="749.4" cy="308.5" r="2.3" fill="#ffd8d8" fill-opacity="0.35" stroke="#e81818" stroke-width="0.9"/>
<path d="M748.3,308.5 L750.5,308.5" stroke="#e81818" stroke-width="0.7"/>
<circle cx="807.6" cy="284.8" r="2.3" fill="#ffd8d8" fill-opacity="0.35" stroke="#e81818" stroke-width="0.9"/>
<path d="M806.5,284.8 L808.7,284.8" stroke="#e81818" stroke-width="0.7"/>
<circle cx="806.4" cy="302.4" r="2.3" fill="#ffd8d8" fill-opacity="0.35" stroke="#e81818" stroke-width="0.9"/>
<path d="M805.3,302.4 L807.5,302.4" stroke="#e81818" stroke-width="0.7"/>
<circle cx="741" cy="403" r="2.2" fill="#d0d8ff" fill-opacity="0.45" stroke="#1818e8" stroke-width="0.9"/>
<path d="M740.0,403 L742.0,403 M741,402.0 L741,404.0" stroke="#1818e8" stroke-width="0.6"/>
<circle cx="747.6" cy="402.4" r="2.2" fill="#d0d8ff" fill-opacity="0.45" stroke="#1818e8" stroke-width="0.9"/>
<path d="M746.6,402.4 L748.6,402.4 M747.6,401.4 L747.6,403.4" stroke="#1818e8" stroke-width="0.6"/>
<circle cx="755.8" cy="400.4" r="2.2" fill="#d0d8ff" fill-opacity="0.45" stroke="#1818e8" stroke-width="0.9"/>
<path d="M754.8,400.4 L756.8,400.4 M755.8,399.4 L755.8,401.4" stroke="#1818e8" stroke-width="0.6"/>
<circle cx="806" cy="381" r="2.2" fill="#d0d8ff" fill-opacity="0.45" stroke="#1818e8" stroke-width="0.9"/>
<path d="M805.0,381 L807.0,381 M806,380.0 L806,382.0" stroke="#1818e8" stroke-width="0.6"/>
<path d="M811.7,287.2 C828,287 828,304.6 811.7,304.4 Z" fill="url(#g8cat)" stroke="#1a1a1a" stroke-width="1.1"/>
<circle cx="816.2" cy="291.2" r="2.1" fill="#ffd8d8" fill-opacity="0.35" stroke="#e81818" stroke-width="0.9"/>
<path d="M815.1,291.2 L817.3000000000001,291.2" stroke="#e81818" stroke-width="0.7"/>
<circle cx="816.2" cy="298.6" r="2.1" fill="#ffd8d8" fill-opacity="0.35" stroke="#e81818" stroke-width="0.9"/>
<path d="M815.1,298.6 L817.3000000000001,298.6" stroke="#e81818" stroke-width="0.7"/>
<path d="M811.7,343.6 C813.7,348.6 820,351.6 837.6,354.2 C820,357.2 813.7,358.6 811.7,364.4 Z" fill="url(#g8trap)"/>
<path d="M811.7,343.6 C813.7,348.6 820,351.6 837.6,354.2 C820,357.2 813.7,358.6 811.7,364.4" fill="none" stroke="#1a1a1a" stroke-width="1.2"/>
<circle cx="815.2" cy="351.4" r="1.7" fill="#d0d8ff" fill-opacity="0.45" stroke="#1818e8" stroke-width="0.9"/>
<path d="M814.2,351.4 L816.2,351.4 M815.2,350.4 L815.2,352.4" stroke="#1818e8" stroke-width="0.6"/>
<circle cx="815.2" cy="357.0" r="1.7" fill="#d0d8ff" fill-opacity="0.45" stroke="#1818e8" stroke-width="0.9"/>
<path d="M814.2,357.0 L816.2,357.0 M815.2,356.0 L815.2,358.0" stroke="#1818e8" stroke-width="0.6"/>
<circle cx="819.8" cy="354.2" r="1.7" fill="#d0d8ff" fill-opacity="0.45" stroke="#1818e8" stroke-width="0.9"/>
<path d="M818.8,354.2 L820.8,354.2 M819.8,353.2 L819.8,355.2" stroke="#1818e8" stroke-width="0.6"/>
<circle cx="824.4" cy="354.3" r="1.7" fill="#d0d8ff" fill-opacity="0.45" stroke="#1818e8" stroke-width="0.9"/>
<path d="M823.4,354.3 L825.4,354.3 M824.4,353.3 L824.4,355.3" stroke="#1818e8" stroke-width="0.6"/>
<path d="M828,354.4 L835.6,354.3" stroke="#ff10a0" stroke-width="1.8"/>
<path d="M823.8,292.3 L841.6,292.3" stroke="#1a1a1a" stroke-width="1.0"/>
<path d="M832,352.1 L841,352.1" stroke="#1a1a1a" stroke-width="1.0"/>
<path d="M839.4,296.6 L839.4,347.4" stroke="#1a1a1a" stroke-width="0.9"/>
<path d="M839.4,293.6 L838,298 L840.8,298 Z M839.4,350.6 L838,346.2 L840.8,346.2 Z" fill="#1a1a1a"/>
<text x="828.9" y="334.6" font-size="7.8" fill="#222" text-anchor="start" font-weight="normal" textLength="27.5" lengthAdjust="spacingAndGlyphs" transform="rotate(-90 828.9 334.6)" >Charge</text>
<text x="836.5" y="341.8" font-size="7.8" fill="#222" text-anchor="start" font-weight="normal" textLength="40.5" lengthAdjust="spacingAndGlyphs" transform="rotate(-90 836.5 341.8)" >separation</text>
<text x="814.2" y="368.0" font-size="8.4" fill="#2828e0" text-anchor="start" font-weight="normal" textLength="15.4" lengthAdjust="spacingAndGlyphs" >~ms</text>
<path d="M805.6,380 C803.6,374 809,371 808,366 C807.6,364 809,362.8 810.4,362" fill="none" stroke="#ff70d0" stroke-width="1.3"/>
<path d="M812,361 L808.4,361.4 L810,364.4 Z" fill="#ff70d0"/>
<text x="815.6" y="276.4" font-size="8" fill="#222" text-anchor="start" font-weight="normal" >4H<tspan font-size="5" dy="-2.8">+</tspan></text>
<path d="M820.8,277.4 C824,284.4 832,289.6 843.6,287.2" fill="none" stroke="#2020e0" stroke-width="1.2"/>
<path d="M847,285.8 L842.2,285.4 L843.8,289.4 Z" fill="#2020e0"/>
<text x="847.8" y="289.2" font-size="8" fill="#222" text-anchor="start" font-weight="normal" >2H<tspan font-size="5" dy="1.7">2</tspan></text>
<text x="727.8" y="420.6" font-size="6.8" fill="#222" text-anchor="start" font-weight="normal" textLength="12.5" lengthAdjust="spacingAndGlyphs" >Bulk</text>
<text x="799.7" y="420.6" font-size="6.8" fill="#222" text-anchor="start" font-weight="normal" textLength="23.1" lengthAdjust="spacingAndGlyphs" >Surface</text>
<rect x="728.6" y="428.2" width="6.4" height="6.4" fill="url(#g8sq)" stroke="#1a1a1a" stroke-width="0.9"/>
<text x="739.9" y="433.9" font-size="6.2" fill="#222" text-anchor="start" font-weight="normal" textLength="40.9" lengthAdjust="spacingAndGlyphs" >Al doping layer</text>
<path d="M802.6,435.3 L805.4,435.2 C807.0,434.8 807.4,427.4 808.5,427.4 C809.6,427.4 810.0,434.8 811.6,435.2 L814.5,435.3 Z" fill="url(#g8pk)" stroke="#1a1a1a" stroke-width="1.0"/>
<text x="819.4" y="429.6" font-size="6.3" fill="#222" text-anchor="start" font-weight="normal" textLength="64.2" lengthAdjust="spacingAndGlyphs" >Hole trap state induced</text>
<text x="819.4" y="437.2" font-size="6.3" fill="#222" text-anchor="start" font-weight="normal" textLength="33.1" lengthAdjust="spacingAndGlyphs" >by Al doping</text>
<path d="M727.2,448.8 C727.6,440.6 736.8,440.6 737.2,448.8 Z" fill="url(#g8cat)" stroke="#1a1a1a" stroke-width="0.9"/>
<text x="739.8" y="448.3" font-size="6.4" fill="#222" text-anchor="start" font-weight="normal" textLength="54.9" lengthAdjust="spacingAndGlyphs" >Rh/Cr<tspan font-size="4.2" dy="1.3">2</tspan><tspan dy="-1.3">O</tspan><tspan font-size="4.2" dy="1.3">3</tspan><tspan dy="-1.3"> cocatalyst</tspan></text>
<path d="M836,354.6 L867.8,345" stroke="#3a80e8" stroke-width="1.0" stroke-dasharray="4,2.8" fill="none"/>
<path d="M836,356.2 L866.8,371.6" stroke="#3a80e8" stroke-width="1.0" stroke-dasharray="4,2.8" fill="none"/>
<path d="M868.4,355.7 L877.2,355.7" stroke="#222" stroke-width="1.0" fill="none"/>
<path d="M885.6,355.7 L894.2,355.7" stroke="#222" stroke-width="1.0" fill="none"/>
<path d="M900.8,355.7 L911.6,355.7" stroke="#222" stroke-width="1.0" fill="none"/>
<path d="M922.8,355.7 L933.0,355.7" stroke="#222" stroke-width="1.0" fill="none"/>
<path d="M881.7,351.6 L881.8,343.0" stroke="#222" stroke-width="1.0" fill="none"/>
<path d="M883.6,352.0 L890.8,346.0" stroke="#222" stroke-width="1.0" fill="none"/>
<path d="M881.7,359.6 L881.8,370.2" stroke="#222" stroke-width="1.0" fill="none"/>
<path d="M879.2,359.4 L873.4,366.6" stroke="#222" stroke-width="1.0" fill="none"/>
<path d="M917.8,351.6 L918.0,343.0" stroke="#222" stroke-width="1.0" fill="none"/>
<path d="M919.8,352.0 L928.2,346.0" stroke="#222" stroke-width="1.0" fill="none"/>
<path d="M917.6,359.6 L918.4,368.8" stroke="#222" stroke-width="1.0" fill="none"/>
<path d="M915.0,359.4 L909.6,366.6" stroke="#222" stroke-width="1.0" fill="none"/>
<path d="M884.2,338.0 L887.4,335.6" stroke="#222" stroke-width="1.0" fill="none"/>
<path d="M892.2,332.4 L896.4,329.2" stroke="#222" stroke-width="1.0" fill="none"/>
<path d="M902.0,329.0 L906.8,331.8" stroke="#222" stroke-width="1.0" fill="none"/>
<path d="M912.4,334.6 L915.6,337.4" stroke="#222" stroke-width="1.0" fill="none"/>
<path d="M920.4,337.6 L923.8,334.8" stroke="#222" stroke-width="1.0" fill="none"/>
<path d="M899.2,323.4 L899.2,319.6" stroke="#222" stroke-width="1.0" fill="none"/>
<text x="881.4" y="358.0" font-size="7" fill="#222" text-anchor="middle" font-weight="normal" >Ti</text>
<text x="917.2" y="358.0" font-size="7" fill="#28a858" text-anchor="middle" font-weight="bold" >Al</text>
<text x="865.2" y="358.0" font-size="6.6" fill="#222" text-anchor="middle" font-weight="normal" >O</text>
<text x="897.5" y="358.0" font-size="6.6" fill="#222" text-anchor="middle" font-weight="normal" >O</text>
<text x="936.3" y="358.0" font-size="6.6" fill="#222" text-anchor="middle" font-weight="normal" >O</text>
<text x="871.3" y="371.2" font-size="6.6" fill="#222" text-anchor="middle" font-weight="normal" >O</text>
<text x="881.8" y="375.9" font-size="6.6" fill="#222" text-anchor="middle" font-weight="normal" >O</text>
<text x="907.6" y="371.2" font-size="6.6" fill="#222" text-anchor="middle" font-weight="normal" >O</text>
<text x="918.7" y="374.3" font-size="6.6" fill="#222" text-anchor="middle" font-weight="normal" >O</text>
<text x="881.8" y="342.3" font-size="6.6" fill="#222" text-anchor="middle" font-weight="normal" >O</text>
<text x="892.9" y="346.3" font-size="6.6" fill="#222" text-anchor="middle" font-weight="normal" >O</text>
<text x="918.0" y="342.3" font-size="6.6" fill="#222" text-anchor="middle" font-weight="normal" >O</text>
<text x="930.2" y="346.3" font-size="6.6" fill="#222" text-anchor="middle" font-weight="normal" >O</text>
<text x="899.2" y="328.9" font-size="6.6" fill="#222" text-anchor="middle" font-weight="normal" >O</text>
<text x="889.8" y="335.9" font-size="6.6" fill="#222" text-anchor="middle" font-weight="normal" >H</text>
<text x="926.4" y="335.3" font-size="6.6" fill="#222" text-anchor="middle" font-weight="normal" >H</text>
<text x="899.2" y="318.1" font-size="6.6" fill="#a060e8" text-anchor="middle" font-weight="normal" >H</text>
<text x="909.7" y="335.3" font-size="6.6" fill="#a060e8" text-anchor="middle" font-weight="normal" >H</text>
<text x="926.2" y="363.6" font-size="6.4" fill="#222" text-anchor="middle" font-weight="normal" >(Ti)</text>
<text x="862.5" y="384.4" font-size="7.2" fill="#222" text-anchor="start" font-weight="normal" textLength="17.0" lengthAdjust="spacingAndGlyphs" >2H<tspan font-size="4.4" dy="1.5">2</tspan><tspan dy="-1.5">O</tspan></text>
<path d="M884.2,382 L893,382" stroke="#2020e0" stroke-width="1.1" stroke-dasharray="1,0.6"/>
<path d="M893,382 L919.4,382" stroke="#2020e0" stroke-width="1.1"/>
<path d="M923,382 L918.6,380.2 L918.6,383.8 Z" fill="#2020e0"/>
<text x="925.0" y="384.4" font-size="7.2" fill="#222" text-anchor="start" font-weight="normal" textLength="23.4" lengthAdjust="spacingAndGlyphs" >O<tspan font-size="4.4" dy="1.5">2</tspan><tspan dy="-1.5">+4H</tspan><tspan font-size="4.4" dy="-2.6">+</tspan></text>
<text x="861.9" y="399.0" font-size="7.0" fill="#222" text-anchor="start" font-weight="normal" textLength="69.4" lengthAdjust="spacingAndGlyphs" >Water adsorption sites</text>
<text x="868.8" y="407.4" font-size="7.0" fill="#222" text-anchor="start" font-weight="normal" textLength="56.6" lengthAdjust="spacingAndGlyphs" >for water oxidation</text>
</svg>
</body></html>
